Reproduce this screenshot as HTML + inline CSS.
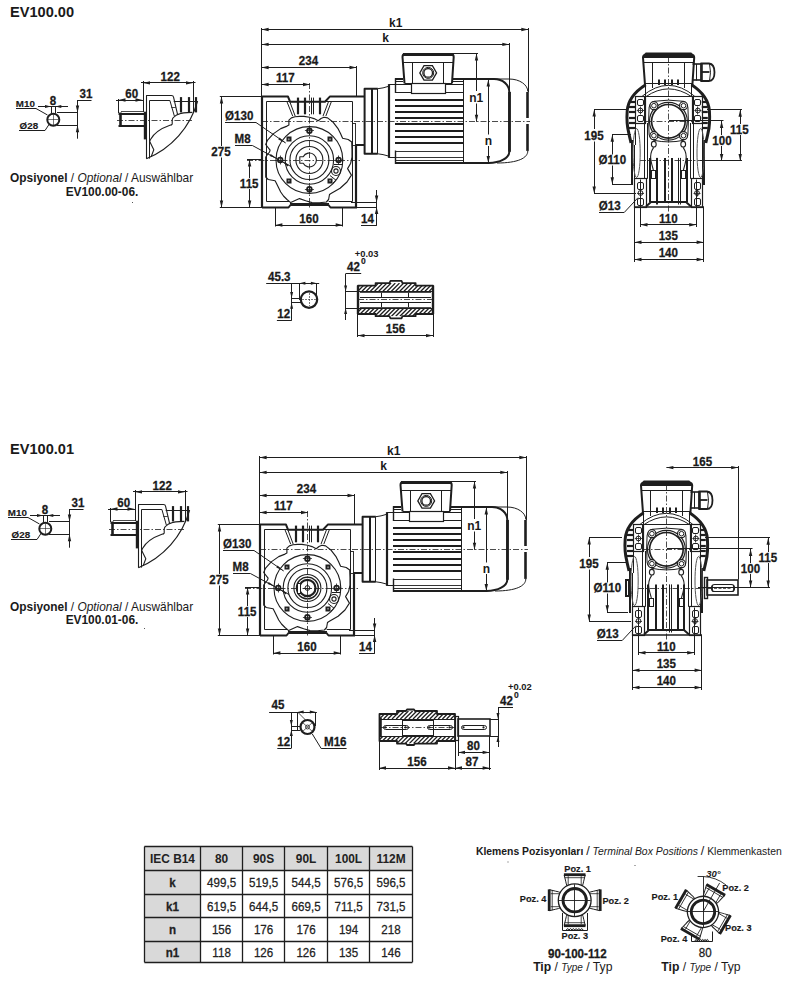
<!DOCTYPE html>
<html><head><meta charset="utf-8"><style>
html,body{margin:0;padding:0;background:#fff;}
body{width:802px;height:988px;overflow:hidden;}
svg{display:block;font-family:"Liberation Sans",sans-serif;}
</style></head><body>
<svg width="802" height="988" viewBox="0 0 802 988">
<text x="10.00" y="16.80" font-size="14.6" font-weight="bold" font-style="normal" text-anchor="start" fill="#1a1a1a" stroke="#1a1a1a" stroke-width="0" >EV100.00</text>
<text transform="translate(79.60,97.50) scale(1,1.12)" font-size="11.6" font-weight="bold" font-style="normal" text-anchor="start" fill="#1a1a1a" stroke="#1a1a1a" stroke-width="0.25" >31</text>
<line x1="77.00" y1="100.50" x2="91.50" y2="100.50" stroke="#1e1e1e" stroke-width="1.0" />
<line x1="77.50" y1="100.40" x2="77.50" y2="138.70" stroke="#1e1e1e" stroke-width="1.0" />
<polygon points="77.50,112.50 75.80,105.50 79.20,105.50" fill="#1e1e1e" stroke="none"/>
<polygon points="77.50,125.20 75.80,132.20 79.20,132.20" fill="#1e1e1e" stroke="none"/>
<line x1="57.00" y1="112.50" x2="77.50" y2="112.50" stroke="#1e1e1e" stroke-width="1.0" />
<line x1="57.00" y1="125.50" x2="77.50" y2="125.50" stroke="#1e1e1e" stroke-width="1.0" />
<circle cx="53.30" cy="119.70" r="6.00" fill="none" stroke="#1e1e1e" stroke-width="2.0" />
<line x1="53.50" y1="114.50" x2="53.50" y2="125.00" stroke="#1e1e1e" stroke-width="0.6" />
<line x1="48.00" y1="119.50" x2="58.50" y2="119.50" stroke="#1e1e1e" stroke-width="0.6" />
<text transform="translate(49.80,104.60) scale(1,1.12)" font-size="11.6" font-weight="bold" font-style="normal" text-anchor="start" fill="#1a1a1a" stroke="#1a1a1a" stroke-width="0.25" >8</text>
<line x1="38.00" y1="106.50" x2="68.00" y2="106.50" stroke="#1e1e1e" stroke-width="1.0" />
<polygon points="51.00,106.60 45.00,105.10 45.00,108.10" fill="#1e1e1e" stroke="none"/>
<polygon points="55.30,106.60 61.30,105.10 61.30,108.10" fill="#1e1e1e" stroke="none"/>
<line x1="51.50" y1="106.60" x2="51.50" y2="113.50" stroke="#1e1e1e" stroke-width="1.0" />
<line x1="55.50" y1="106.60" x2="55.50" y2="113.50" stroke="#1e1e1e" stroke-width="1.0" />
<text x="15.80" y="107.00" font-size="9.8" font-weight="bold" font-style="normal" text-anchor="start" fill="#1a1a1a" stroke="#1a1a1a" stroke-width="0.15" >M10</text>
<polyline points="16.00,108.50 36.00,108.50 47.50,115.00" fill="none" stroke="#1e1e1e" stroke-width="1.0" stroke-linejoin="round" />
<text x="19.60" y="129.00" font-size="9.8" font-weight="bold" font-style="normal" text-anchor="start" fill="#1a1a1a" stroke="#1a1a1a" stroke-width="0.15" >Ø28</text>
<polyline points="19.00,130.50 45.00,130.50 49.00,124.50" fill="none" stroke="#1e1e1e" stroke-width="1.0" stroke-linejoin="round" />
<text transform="translate(160.60,80.60) scale(1,1.12)" font-size="11.6" font-weight="bold" font-style="normal" text-anchor="start" fill="#1a1a1a" stroke="#1a1a1a" stroke-width="0.25" >122</text>
<line x1="141.00" y1="82.50" x2="195.50" y2="82.50" stroke="#1e1e1e" stroke-width="1.0" />
<polygon points="143.00,82.90 150.00,81.20 150.00,84.60" fill="#1e1e1e" stroke="none"/>
<polygon points="193.00,82.90 186.00,81.20 186.00,84.60" fill="#1e1e1e" stroke="none"/>
<line x1="143.50" y1="81.00" x2="143.50" y2="112.00" stroke="#1e1e1e" stroke-width="1.0" />
<line x1="193.50" y1="81.00" x2="193.50" y2="112.00" stroke="#1e1e1e" stroke-width="1.0" />
<text transform="translate(125.30,97.50) scale(1,1.12)" font-size="11.6" font-weight="bold" font-style="normal" text-anchor="start" fill="#1a1a1a" stroke="#1a1a1a" stroke-width="0.25" >60</text>
<line x1="116.00" y1="100.50" x2="143.00" y2="100.50" stroke="#1e1e1e" stroke-width="1.0" />
<polygon points="118.50,100.00 125.50,98.30 125.50,101.70" fill="#1e1e1e" stroke="none"/>
<polygon points="142.50,100.00 135.50,98.30 135.50,101.70" fill="#1e1e1e" stroke="none"/>
<line x1="118.50" y1="99.00" x2="118.50" y2="113.00" stroke="#1e1e1e" stroke-width="1.0" />
<line x1="118.50" y1="114.00" x2="144.00" y2="114.00" stroke="#1e1e1e" stroke-width="2.0" />
<line x1="118.50" y1="126.00" x2="144.00" y2="126.00" stroke="#1e1e1e" stroke-width="2.0" />
<line x1="121.00" y1="111.50" x2="143.00" y2="111.50" stroke="#1e1e1e" stroke-width="0.8" />
<line x1="120.50" y1="112.50" x2="120.50" y2="126.80" stroke="#1e1e1e" stroke-width="2.6" />
<line x1="117.00" y1="120.50" x2="194.00" y2="120.50" stroke="#1e1e1e" stroke-width="0.8" stroke-dasharray="6,2,1.5,2"/>
<line x1="145.00" y1="111.70" x2="145.00" y2="139.40" stroke="#1e1e1e" stroke-width="2.4" />
<path d="M146.5,158.8 V95.5 H171.4 Q173.3,95.5 173.6,97.3 L177.6,114.7" fill="none" stroke="#1e1e1e" stroke-width="1.1" stroke-linejoin="round" />
<path d="M149.5,158.6 V100.5 H169.9 L174.4,116.2" fill="none" stroke="#1e1e1e" stroke-width="1.0" stroke-linejoin="round" />
<line x1="171.30" y1="107.50" x2="175.80" y2="107.50" stroke="#1e1e1e" stroke-width="0.8" />
<line x1="173.70" y1="101.50" x2="197.60" y2="101.50" stroke="#1e1e1e" stroke-width="1.0" />
<line x1="181.00" y1="97.10" x2="181.00" y2="112.40" stroke="#1e1e1e" stroke-width="2.2" />
<line x1="189.00" y1="97.10" x2="189.00" y2="112.40" stroke="#1e1e1e" stroke-width="2.2" />
<line x1="196.00" y1="97.10" x2="196.00" y2="112.40" stroke="#1e1e1e" stroke-width="2.2" />
<path d="M197.6,101.2 A88,88 0 0 1 146.4,158.8" fill="none" stroke="#1e1e1e" stroke-width="1.2" stroke-linejoin="round" />
<path d="M192.4,112.4 C186,112.6 181,113 179.6,113.9 C177,114.6 175.5,115.5 174.4,116.6 C173,117.6 172.2,118.6 172.2,119.9 V124 C172,124.8 171,125.2 169.9,125.2 C162,128 154,133 150.5,139.4 L149.7,141.6 L153.8,149.8 L151.2,156.6" fill="none" stroke="#1e1e1e" stroke-width="1.1" stroke-linejoin="round" />
<text x="10" y="182.4" font-size="11.9" fill="#1a1a1a"><tspan font-weight="bold">Opsiyonel</tspan> / <tspan font-style="italic">Optional</tspan> / Auswählbar</text>
<text x="102.00" y="195.70" font-size="11.9" font-weight="bold" font-style="normal" text-anchor="middle" fill="#1a1a1a" stroke="#1a1a1a" stroke-width="0" >EV100.00-06.</text>
<line x1="261.60" y1="29.50" x2="528.30" y2="29.50" stroke="#1e1e1e" stroke-width="1.0" />
<polygon points="261.60,29.50 268.60,27.80 268.60,31.20" fill="#1e1e1e" stroke="none"/>
<polygon points="528.30,29.50 521.30,27.80 521.30,31.20" fill="#1e1e1e" stroke="none"/>
<text x="389.00" y="26.80" font-size="12" font-weight="bold" font-style="normal" text-anchor="start" fill="#1a1a1a" stroke="#1a1a1a" stroke-width="0" >k1</text>
<line x1="261.60" y1="44.50" x2="509.30" y2="44.50" stroke="#1e1e1e" stroke-width="1.0" />
<polygon points="261.60,44.40 268.60,42.70 268.60,46.10" fill="#1e1e1e" stroke="none"/>
<polygon points="509.30,44.40 502.30,42.70 502.30,46.10" fill="#1e1e1e" stroke="none"/>
<text x="382.20" y="41.80" font-size="12" font-weight="bold" font-style="normal" text-anchor="start" fill="#1a1a1a" stroke="#1a1a1a" stroke-width="0" >k</text>
<line x1="261.60" y1="67.50" x2="356.50" y2="67.50" stroke="#1e1e1e" stroke-width="1.0" />
<polygon points="261.60,67.50 268.60,65.80 268.60,69.20" fill="#1e1e1e" stroke="none"/>
<polygon points="356.50,67.50 349.50,65.80 349.50,69.20" fill="#1e1e1e" stroke="none"/>
<text transform="translate(298.80,65.20) scale(1,1.12)" font-size="11.6" font-weight="bold" font-style="normal" text-anchor="start" fill="#1a1a1a" stroke="#1a1a1a" stroke-width="0.25" >234</text>
<line x1="261.60" y1="84.50" x2="310.00" y2="84.50" stroke="#1e1e1e" stroke-width="1.0" />
<polygon points="261.60,84.50 268.60,82.80 268.60,86.20" fill="#1e1e1e" stroke="none"/>
<polygon points="310.00,84.50 303.00,82.80 303.00,86.20" fill="#1e1e1e" stroke="none"/>
<text transform="translate(276.00,82.00) scale(1,1.12)" font-size="11.6" font-weight="bold" font-style="normal" text-anchor="start" fill="#1a1a1a" stroke="#1a1a1a" stroke-width="0.25" >117</text>
<line x1="261.50" y1="28.00" x2="261.50" y2="97.00" stroke="#1e1e1e" stroke-width="1.0" />
<line x1="356.50" y1="66.00" x2="356.50" y2="97.00" stroke="#1e1e1e" stroke-width="1.0" />
<line x1="528.50" y1="28.00" x2="528.50" y2="92.00" stroke="#1e1e1e" stroke-width="1.0" />
<line x1="509.50" y1="43.00" x2="509.50" y2="92.00" stroke="#1e1e1e" stroke-width="1.0" />
<line x1="262.00" y1="96.70" x2="262.00" y2="207.50" stroke="#1e1e1e" stroke-width="2.2" />
<path d="M262,96.6 H288 L290,101.7 H325 L329.8,96.6 H364.6" fill="none" stroke="#1e1e1e" stroke-width="2.0" stroke-linejoin="round" />
<line x1="356.00" y1="145.00" x2="356.00" y2="207.30" stroke="#1e1e1e" stroke-width="2.2" />
<path d="M262,207.5 H288.5 L290.5,205 H328.5 L330.5,207.5 H357" fill="none" stroke="#1e1e1e" stroke-width="2.0" stroke-linejoin="round" />
<line x1="290.00" y1="203.50" x2="329.00" y2="203.50" stroke="#1e1e1e" stroke-width="1.0" />
<path d="M289,201.5 H266.5 V101.5 H352.5 V201.5 H328.7" fill="none" stroke="#1e1e1e" stroke-width="1.0" stroke-linejoin="round" />
<line x1="286.80" y1="101.30" x2="292.70" y2="116.10" stroke="#1e1e1e" stroke-width="1.0" />
<line x1="289.80" y1="101.70" x2="295.20" y2="116.10" stroke="#1e1e1e" stroke-width="1.0" />
<line x1="331.50" y1="101.30" x2="325.80" y2="116.10" stroke="#1e1e1e" stroke-width="1.0" />
<line x1="328.50" y1="101.70" x2="323.00" y2="116.10" stroke="#1e1e1e" stroke-width="1.0" />
<line x1="298.00" y1="97.60" x2="298.00" y2="114.30" stroke="#1e1e1e" stroke-width="2.2" />
<line x1="305.00" y1="97.60" x2="305.00" y2="114.30" stroke="#1e1e1e" stroke-width="2.2" />
<line x1="320.00" y1="97.60" x2="320.00" y2="114.30" stroke="#1e1e1e" stroke-width="2.2" />
<line x1="311.50" y1="97.60" x2="311.50" y2="114.30" stroke="#1e1e1e" stroke-width="1.0" />
<line x1="313.50" y1="97.60" x2="313.50" y2="114.30" stroke="#1e1e1e" stroke-width="1.0" />
<rect x="352.50" y="123.50" width="3.00" height="22.00" rx="0" fill="none" stroke="#1e1e1e" stroke-width="0.9" />
<path d="M291.4,117.9 295.0,116.8 299.5,116.4 304.0,116.4 309.5,117.2 314.0,118.6 318.2,120.7 321.0,118.5 323.9,117.3 327.6,117.9 333.2,122.3 338.2,128.9 340.5,133.5 342.6,138.2 348.2,139.5 351.7,142.0 352.0,150.0 352.0,157.0 350.7,163.2 347.6,168.6 351.4,175.1 347.0,182.0 340.1,188.2 331.4,193.2 329.5,194.5 328.6,199.5 326.4,202.0 319.5,202.8 312.0,202.6 305.7,200.7 299.5,198.6 290.7,202.6 287.0,199.5 283.5,196.0 280.7,192.0 276.4,183.2 275.1,180.7 268.2,179.5 265.7,177.0 265.7,157.0 269.5,152.0 270.1,150.1 265.7,144.5 267.6,140.1 273.2,133.9 280.7,128.6 287.0,126.1 288.9,125.1 288.9,120.1Z" fill="none" stroke="#1e1e1e" stroke-width="1.15" stroke-linejoin="round" />
<line x1="247.00" y1="160.50" x2="362.00" y2="160.50" stroke="#1e1e1e" stroke-width="0.8" stroke-dasharray="6,2,1.5,2"/>
<line x1="309.50" y1="83.00" x2="309.50" y2="209.00" stroke="#1e1e1e" stroke-width="0.8" stroke-dasharray="6,2,1.5,2"/>
<line x1="262.00" y1="121.50" x2="530.00" y2="121.50" stroke="#1e1e1e" stroke-width="0.8" stroke-dasharray="6,2,1.5,2"/>
<circle cx="309.40" cy="160.00" r="33.40" fill="none" stroke="#1e1e1e" stroke-width="1.1" />
<circle cx="309.40" cy="160.00" r="24.20" fill="none" stroke="#1e1e1e" stroke-width="1.1" />
<circle cx="309.40" cy="160.00" r="19.50" fill="none" stroke="#1e1e1e" stroke-width="1.1" />
<circle cx="309.40" cy="160.00" r="13.50" fill="none" stroke="#1e1e1e" stroke-width="1.1" />
<path d="M303.2,156.8 A7,7 0 1 1 303.2,163.2 H299.79999999999995 V156.8 Z" fill="none" stroke="#1e1e1e" stroke-width="1.1" stroke-linejoin="round" />
<circle cx="338.60" cy="160.00" r="2.30" fill="none" stroke="#1e1e1e" stroke-width="1.8" />
<line x1="334.10" y1="160.50" x2="343.10" y2="160.50" stroke="#1e1e1e" stroke-width="0.8" />
<line x1="338.50" y1="155.50" x2="338.50" y2="164.50" stroke="#1e1e1e" stroke-width="0.8" />
<circle cx="309.40" cy="189.20" r="2.30" fill="none" stroke="#1e1e1e" stroke-width="1.8" />
<line x1="304.90" y1="189.50" x2="313.90" y2="189.50" stroke="#1e1e1e" stroke-width="0.8" />
<line x1="309.50" y1="184.70" x2="309.50" y2="193.70" stroke="#1e1e1e" stroke-width="0.8" />
<circle cx="280.20" cy="160.00" r="2.30" fill="none" stroke="#1e1e1e" stroke-width="1.8" />
<line x1="275.70" y1="160.50" x2="284.70" y2="160.50" stroke="#1e1e1e" stroke-width="0.8" />
<line x1="280.50" y1="155.50" x2="280.50" y2="164.50" stroke="#1e1e1e" stroke-width="0.8" />
<circle cx="309.40" cy="130.80" r="2.30" fill="none" stroke="#1e1e1e" stroke-width="1.8" />
<line x1="304.90" y1="130.50" x2="313.90" y2="130.50" stroke="#1e1e1e" stroke-width="0.8" />
<line x1="309.50" y1="126.30" x2="309.50" y2="135.30" stroke="#1e1e1e" stroke-width="0.8" />
<rect x="327.50" y="178.50" width="5.00" height="5.00" rx="0" fill="#1e1e1e" stroke="#1e1e1e" stroke-width="0" />
<circle cx="330.05" cy="180.65" r="1.00" fill="#888" stroke="#1e1e1e" stroke-width="0" />
<rect x="286.50" y="178.50" width="5.00" height="5.00" rx="0" fill="#1e1e1e" stroke="#1e1e1e" stroke-width="0" />
<circle cx="288.75" cy="180.65" r="1.00" fill="#888" stroke="#1e1e1e" stroke-width="0" />
<rect x="286.50" y="136.50" width="5.00" height="5.00" rx="0" fill="#1e1e1e" stroke="#1e1e1e" stroke-width="0" />
<circle cx="288.75" cy="139.35" r="1.00" fill="#888" stroke="#1e1e1e" stroke-width="0" />
<rect x="327.50" y="136.50" width="5.00" height="5.00" rx="0" fill="#1e1e1e" stroke="#1e1e1e" stroke-width="0" />
<circle cx="330.05" cy="139.35" r="1.00" fill="#888" stroke="#1e1e1e" stroke-width="0" />
<circle cx="336.00" cy="171.00" r="4.50" fill="none" stroke="#1e1e1e" stroke-width="1.1" />
<circle cx="336.00" cy="171.00" r="2.10" fill="none" stroke="#1e1e1e" stroke-width="1.1" />
<polyline points="334.00,164.50 342.50,164.50 342.50,159.00" fill="none" stroke="#1e1e1e" stroke-width="1.0" stroke-linejoin="round" />
<polyline points="330.00,175.50 336.10,180.30 332.60,183.30" fill="none" stroke="#1e1e1e" stroke-width="1.0" stroke-linejoin="round" />
<text transform="translate(225.00,119.70) scale(1,1.12)" font-size="11.6" font-weight="bold" font-style="normal" text-anchor="start" fill="#1a1a1a" stroke="#1a1a1a" stroke-width="0.25" >Ø130</text>
<polyline points="225.00,122.50 256.00,122.50 285.70,143.00" fill="none" stroke="#1e1e1e" stroke-width="1.0" stroke-linejoin="round" />
<polygon points="285.7,143 279.5,137.5 278.3,139.6" fill="#1e1e1e"/>
<text transform="translate(234.60,142.80) scale(1,1.12)" font-size="11.6" font-weight="bold" font-style="normal" text-anchor="start" fill="#1a1a1a" stroke="#1a1a1a" stroke-width="0.25" >M8</text>
<polyline points="235.00,145.50 252.40,145.50 291.00,166.50" fill="none" stroke="#1e1e1e" stroke-width="1.0" stroke-linejoin="round" />
<polygon points="277.2,158.5 270.6,153.9 269.6,155.9" fill="#1e1e1e"/>
<polygon points="281.6,161 288.6,164.6 287.6,166.6" fill="#1e1e1e"/>
<line x1="219.80" y1="96.50" x2="262.00" y2="96.50" stroke="#1e1e1e" stroke-width="1.0" />
<line x1="219.80" y1="207.50" x2="262.00" y2="207.50" stroke="#1e1e1e" stroke-width="1.0" />
<line x1="221.50" y1="96.40" x2="221.50" y2="146.00" stroke="#1e1e1e" stroke-width="1.0" />
<line x1="221.50" y1="157.50" x2="221.50" y2="207.60" stroke="#1e1e1e" stroke-width="1.0" />
<polygon points="221.50,96.40 219.80,103.40 223.20,103.40" fill="#1e1e1e" stroke="none"/>
<polygon points="221.50,207.60 219.80,200.60 223.20,200.60" fill="#1e1e1e" stroke="none"/>
<text transform="translate(221.00,155.90) scale(1,1.12)" font-size="11.6" font-weight="bold" font-style="normal" text-anchor="middle" fill="#1a1a1a" stroke="#1a1a1a" stroke-width="0.25" >275</text>
<line x1="247.00" y1="159.50" x2="262.00" y2="159.50" stroke="#1e1e1e" stroke-width="1.0" />
<line x1="249.50" y1="159.40" x2="249.50" y2="178.00" stroke="#1e1e1e" stroke-width="1.0" />
<line x1="249.50" y1="189.00" x2="249.50" y2="207.60" stroke="#1e1e1e" stroke-width="1.0" />
<polygon points="249.60,159.40 247.90,166.40 251.30,166.40" fill="#1e1e1e" stroke="none"/>
<polygon points="249.60,207.60 247.90,200.60 251.30,200.60" fill="#1e1e1e" stroke="none"/>
<text transform="translate(249.20,187.70) scale(1,1.12)" font-size="11.6" font-weight="bold" font-style="normal" text-anchor="middle" fill="#1a1a1a" stroke="#1a1a1a" stroke-width="0.25" >115</text>
<line x1="275.50" y1="207.00" x2="275.50" y2="226.50" stroke="#1e1e1e" stroke-width="1.0" />
<line x1="342.50" y1="207.00" x2="342.50" y2="226.50" stroke="#1e1e1e" stroke-width="1.0" />
<line x1="275.40" y1="225.50" x2="342.70" y2="225.50" stroke="#1e1e1e" stroke-width="1.0" />
<polygon points="275.40,225.00 282.40,223.30 282.40,226.70" fill="#1e1e1e" stroke="none"/>
<polygon points="342.70,225.00 335.70,223.30 335.70,226.70" fill="#1e1e1e" stroke="none"/>
<text transform="translate(309.00,222.50) scale(1,1.12)" font-size="11.6" font-weight="bold" font-style="normal" text-anchor="middle" fill="#1a1a1a" stroke="#1a1a1a" stroke-width="0.25" >160</text>
<line x1="351.00" y1="202.50" x2="377.00" y2="202.50" stroke="#1e1e1e" stroke-width="1.0" />
<line x1="356.00" y1="207.50" x2="377.00" y2="207.50" stroke="#1e1e1e" stroke-width="1.0" />
<line x1="376.50" y1="190.00" x2="376.50" y2="225.80" stroke="#1e1e1e" stroke-width="1.0" />
<polygon points="376.60,202.60 374.90,195.60 378.30,195.60" fill="#1e1e1e" stroke="none"/>
<polygon points="376.60,207.10 374.90,214.10 378.30,214.10" fill="#1e1e1e" stroke="none"/>
<line x1="361.00" y1="225.50" x2="376.60" y2="225.50" stroke="#1e1e1e" stroke-width="1.0" />
<text transform="translate(361.00,222.80) scale(1,1.12)" font-size="11.6" font-weight="bold" font-style="normal" text-anchor="start" fill="#1a1a1a" stroke="#1a1a1a" stroke-width="0.25" >14</text>
<line x1="355.00" y1="145.00" x2="364.60" y2="145.00" stroke="#1e1e1e" stroke-width="2.0" />
<path d="M377.8,88.7 H364.6 V153.8 H377.8" fill="none" stroke="#1e1e1e" stroke-width="2.0" stroke-linejoin="round" />
<line x1="372.00" y1="88.70" x2="372.00" y2="153.80" stroke="#1e1e1e" stroke-width="2.0" />
<line x1="377.50" y1="88.70" x2="377.50" y2="153.80" stroke="#1e1e1e" stroke-width="1.0" />
<path d="M377.8,88.7 Q383,88.2 388.3,86.4" fill="none" stroke="#1e1e1e" stroke-width="1.0" stroke-linejoin="round" />
<path d="M377.8,153.8 Q383,154.3 388.3,156" fill="none" stroke="#1e1e1e" stroke-width="1.0" stroke-linejoin="round" />
<line x1="389.00" y1="84.10" x2="389.00" y2="157.90" stroke="#1e1e1e" stroke-width="2.2" />
<line x1="389.00" y1="84.50" x2="395.00" y2="84.50" stroke="#1e1e1e" stroke-width="1.0" />
<line x1="389.00" y1="157.50" x2="395.00" y2="157.50" stroke="#1e1e1e" stroke-width="1.0" />
<line x1="395.50" y1="78.20" x2="395.50" y2="93.00" stroke="#1e1e1e" stroke-width="1.4" />
<line x1="395.50" y1="150.50" x2="395.50" y2="164.00" stroke="#1e1e1e" stroke-width="1.4" />
<line x1="395.00" y1="79.00" x2="403.00" y2="79.00" stroke="#1e1e1e" stroke-width="2.0" />
<line x1="452.00" y1="79.00" x2="494.00" y2="79.00" stroke="#1e1e1e" stroke-width="2.0" />
<line x1="395.00" y1="163.00" x2="489.00" y2="163.00" stroke="#1e1e1e" stroke-width="2.2" />
<line x1="395.00" y1="100.00" x2="463.50" y2="100.00" stroke="#1e1e1e" stroke-width="2.1" />
<line x1="395.00" y1="106.00" x2="463.50" y2="106.00" stroke="#1e1e1e" stroke-width="2.1" />
<line x1="395.00" y1="112.00" x2="463.50" y2="112.00" stroke="#1e1e1e" stroke-width="2.1" />
<line x1="395.00" y1="118.00" x2="463.50" y2="118.00" stroke="#1e1e1e" stroke-width="2.1" />
<line x1="395.00" y1="124.00" x2="463.50" y2="124.00" stroke="#1e1e1e" stroke-width="2.1" />
<line x1="395.00" y1="131.00" x2="463.50" y2="131.00" stroke="#1e1e1e" stroke-width="2.1" />
<line x1="395.00" y1="137.00" x2="463.50" y2="137.00" stroke="#1e1e1e" stroke-width="2.1" />
<line x1="395.00" y1="143.00" x2="463.50" y2="143.00" stroke="#1e1e1e" stroke-width="2.1" />
<line x1="463.50" y1="79.40" x2="463.50" y2="163.00" stroke="#1e1e1e" stroke-width="1.0" />
<line x1="395.00" y1="81.50" x2="403.00" y2="81.50" stroke="#1e1e1e" stroke-width="1" />
<line x1="452.00" y1="81.50" x2="463.50" y2="81.50" stroke="#1e1e1e" stroke-width="1" />
<line x1="395.00" y1="84.50" x2="411.00" y2="84.50" stroke="#1e1e1e" stroke-width="1" />
<line x1="445.00" y1="84.50" x2="463.50" y2="84.50" stroke="#1e1e1e" stroke-width="1" />
<line x1="395.00" y1="92.50" x2="411.00" y2="92.50" stroke="#1e1e1e" stroke-width="1" />
<line x1="445.00" y1="92.50" x2="463.50" y2="92.50" stroke="#1e1e1e" stroke-width="1" />
<rect x="411.50" y="83.50" width="34.00" height="10.00" rx="0" fill="none" stroke="#1e1e1e" stroke-width="1.2" />
<path d="M404.5,83.4 L402.5,57 Q402.5,54 405,54 H451 Q453.7,54 453.7,57 L452,83.4" fill="none" stroke="#1e1e1e" stroke-width="2.0" stroke-linejoin="round" />
<line x1="403.00" y1="54.50" x2="453.40" y2="54.50" stroke="#1e1e1e" stroke-width="3.0" />
<line x1="403.00" y1="62.50" x2="453.00" y2="62.50" stroke="#1e1e1e" stroke-width="1.0" />
<line x1="412.50" y1="62.00" x2="412.50" y2="83.40" stroke="#1e1e1e" stroke-width="1.0" />
<line x1="443.50" y1="62.00" x2="443.50" y2="83.40" stroke="#1e1e1e" stroke-width="1.0" />
<line x1="404.50" y1="83.50" x2="452.00" y2="83.50" stroke="#1e1e1e" stroke-width="1.0" />
<polygon points="436.60,72.90 432.40,80.17 424.00,80.17 419.80,72.90 424.00,65.63 432.40,65.63" fill="#fff" stroke="#1e1e1e" stroke-width="1.3"/>
<circle cx="428.20" cy="72.90" r="5.50" fill="none" stroke="#1e1e1e" stroke-width="1.0" />
<circle cx="428.20" cy="72.90" r="4.30" fill="none" stroke="#1e1e1e" stroke-width="1.3" />
<path d="M494,79 C503,79 509.3,85 509.3,92 V151.8 C509.3,158 500,163 488.7,163" fill="none" stroke="#1e1e1e" stroke-width="2.0" stroke-linejoin="round" />
<line x1="509.50" y1="92.00" x2="509.50" y2="151.80" stroke="#1e1e1e" stroke-width="2.8" />
<path d="M494,79 H509 C520,79 527.8,85 527.8,91.5 M527.8,150.9 C527.8,158 518,163 497,163" fill="none" stroke="#1e1e1e" stroke-width="1.0" stroke-linejoin="round" />
<line x1="527.50" y1="92.00" x2="527.50" y2="118.00" stroke="#1e1e1e" stroke-width="2.6" />
<line x1="527.50" y1="124.00" x2="527.50" y2="150.90" stroke="#1e1e1e" stroke-width="2.6" />
<line x1="395.00" y1="151.50" x2="463.50" y2="151.50" stroke="#1e1e1e" stroke-width="0.9" />
<line x1="395.00" y1="157.50" x2="463.50" y2="157.50" stroke="#1e1e1e" stroke-width="0.9" />
<line x1="395.00" y1="160.50" x2="463.50" y2="160.50" stroke="#1e1e1e" stroke-width="0.9" />
<line x1="451.00" y1="53.50" x2="478.00" y2="53.50" stroke="#1e1e1e" stroke-width="1.0" />
<line x1="476.50" y1="53.40" x2="476.50" y2="91.00" stroke="#1e1e1e" stroke-width="1.0" />
<line x1="476.50" y1="103.50" x2="476.50" y2="121.80" stroke="#1e1e1e" stroke-width="1.0" />
<polygon points="476.50,53.40 474.80,60.40 478.20,60.40" fill="#1e1e1e" stroke="none"/>
<polygon points="476.50,121.80 474.80,114.80 478.20,114.80" fill="#1e1e1e" stroke="none"/>
<text x="476.30" y="102.00" font-size="12" font-weight="bold" font-style="normal" text-anchor="middle" fill="#1a1a1a" stroke="#1a1a1a" stroke-width="0" >n1</text>
<line x1="488.50" y1="79.40" x2="488.50" y2="134.50" stroke="#1e1e1e" stroke-width="1.0" />
<line x1="488.50" y1="146.00" x2="488.50" y2="163.00" stroke="#1e1e1e" stroke-width="1.0" />
<polygon points="488.30,79.40 486.60,86.40 490.00,86.40" fill="#1e1e1e" stroke="none"/>
<polygon points="488.30,163.00 486.60,156.00 490.00,156.00" fill="#1e1e1e" stroke="none"/>
<text x="488.30" y="144.50" font-size="12" font-weight="bold" font-style="normal" text-anchor="middle" fill="#1a1a1a" stroke="#1a1a1a" stroke-width="0" >n</text>
<path d="M645,84.9 L643,57.5 Q643,54.7 646,54.7 H691.5 Q694.2,54.7 694.2,57.5 L692.4,84.9" fill="none" stroke="#1e1e1e" stroke-width="2.0" stroke-linejoin="round" />
<path d="M643,57.5 L645.5,53 H691.5 L694.2,57.5 Z" fill="#1e1e1e" stroke="#1e1e1e" stroke-width="1.0" stroke-linejoin="round" />
<line x1="643.50" y1="62.50" x2="694.00" y2="62.50" stroke="#1e1e1e" stroke-width="1.0" />
<line x1="652.50" y1="62.40" x2="652.50" y2="88.00" stroke="#1e1e1e" stroke-width="1.0" />
<line x1="684.50" y1="62.40" x2="684.50" y2="88.00" stroke="#1e1e1e" stroke-width="1.0" />
<line x1="659.00" y1="79.60" x2="659.00" y2="85.00" stroke="#1e1e1e" stroke-width="2.0" />
<line x1="665.00" y1="79.60" x2="665.00" y2="85.00" stroke="#1e1e1e" stroke-width="2.0" />
<line x1="672.00" y1="79.60" x2="672.00" y2="85.00" stroke="#1e1e1e" stroke-width="2.0" />
<line x1="678.00" y1="79.60" x2="678.00" y2="85.00" stroke="#1e1e1e" stroke-width="2.0" />
<line x1="644.00" y1="83.50" x2="693.00" y2="83.50" stroke="#1e1e1e" stroke-width="1.0" />
<line x1="645.50" y1="84.00" x2="645.50" y2="96.00" stroke="#1e1e1e" stroke-width="1.0" />
<line x1="691.50" y1="84.00" x2="691.50" y2="96.00" stroke="#1e1e1e" stroke-width="1.0" />
<line x1="692.50" y1="64.00" x2="701.00" y2="64.00" stroke="#1e1e1e" stroke-width="1.6" />
<line x1="692.50" y1="80.00" x2="701.00" y2="80.00" stroke="#1e1e1e" stroke-width="1.6" />
<line x1="696.50" y1="64.00" x2="696.50" y2="80.50" stroke="#1e1e1e" stroke-width="1.0" />
<path d="M701,63.5 H709 Q714.5,64 714.5,72.3 Q714.5,81 709,81 H701 Z" fill="none" stroke="#1e1e1e" stroke-width="1.8" stroke-linejoin="round" />
<line x1="702.00" y1="63.50" x2="702.00" y2="81.00" stroke="#1e1e1e" stroke-width="1.6" />
<path d="M709.5,64 Q711.5,72 709.5,81" fill="none" stroke="#1e1e1e" stroke-width="1.0" stroke-linejoin="round" />
<line x1="701.50" y1="72.00" x2="709.50" y2="72.00" stroke="#1e1e1e" stroke-width="1.8" />
<path d="M645.7,84.8 C636,91 628,100 627.2,111 C626.5,120 627.5,128 628.8,133 C629.5,137 630.5,140 631,143" fill="none" stroke="#1e1e1e" stroke-width="3.0" stroke-linejoin="round" />
<path d="M691.5,84.8 C701,91 708.6,100 709.4,111 C710,120 709.3,128 708,133 C707.3,137 706.3,140 705.8,143" fill="none" stroke="#1e1e1e" stroke-width="3.0" stroke-linejoin="round" />
<line x1="635.50" y1="123.00" x2="635.50" y2="145.00" stroke="#1e1e1e" stroke-width="1.0" />
<line x1="702.50" y1="123.00" x2="702.50" y2="145.00" stroke="#1e1e1e" stroke-width="1.0" />
<line x1="629.00" y1="102.00" x2="635.00" y2="102.00" stroke="#1e1e1e" stroke-width="2.2" />
<line x1="701.80" y1="102.00" x2="707.80" y2="102.00" stroke="#1e1e1e" stroke-width="2.2" />
<line x1="629.00" y1="107.00" x2="635.00" y2="107.00" stroke="#1e1e1e" stroke-width="2.2" />
<line x1="701.80" y1="107.00" x2="707.80" y2="107.00" stroke="#1e1e1e" stroke-width="2.2" />
<line x1="629.00" y1="112.00" x2="635.00" y2="112.00" stroke="#1e1e1e" stroke-width="2.2" />
<line x1="701.80" y1="112.00" x2="707.80" y2="112.00" stroke="#1e1e1e" stroke-width="2.2" />
<line x1="629.00" y1="118.00" x2="635.00" y2="118.00" stroke="#1e1e1e" stroke-width="2.2" />
<line x1="701.80" y1="118.00" x2="707.80" y2="118.00" stroke="#1e1e1e" stroke-width="2.2" />
<line x1="629.00" y1="123.00" x2="635.00" y2="123.00" stroke="#1e1e1e" stroke-width="2.2" />
<line x1="701.80" y1="123.00" x2="707.80" y2="123.00" stroke="#1e1e1e" stroke-width="2.2" />
<line x1="629.00" y1="128.00" x2="635.00" y2="128.00" stroke="#1e1e1e" stroke-width="2.2" />
<line x1="701.80" y1="128.00" x2="707.80" y2="128.00" stroke="#1e1e1e" stroke-width="2.2" />
<path d="M642.2,96.2 Q668.4,74.5 694.6,96.2" fill="none" stroke="#1e1e1e" stroke-width="1.0" stroke-linejoin="round" />
<path d="M645.7,96.8 Q668.4,81 691.9,96.8" fill="none" stroke="#1e1e1e" stroke-width="1.0" stroke-linejoin="round" />
<line x1="645.70" y1="96.50" x2="691.90" y2="96.50" stroke="#1e1e1e" stroke-width="1.0" />
<rect x="635.50" y="96.50" width="10.00" height="27.00" rx="0" fill="none" stroke="#1e1e1e" stroke-width="1.2" />
<rect x="637.50" y="99.50" width="6.00" height="6.00" rx="1.5" fill="none" stroke="#1e1e1e" stroke-width="1.0" />
<rect x="637.50" y="115.50" width="6.00" height="6.00" rx="1.5" fill="none" stroke="#1e1e1e" stroke-width="1.0" />
<circle cx="640.40" cy="110.50" r="2.40" fill="none" stroke="#1e1e1e" stroke-width="1.0" />
<line x1="636.80" y1="110.50" x2="644.00" y2="110.50" stroke="#1e1e1e" stroke-width="0.8" />
<line x1="640.50" y1="106.50" x2="640.50" y2="114.50" stroke="#1e1e1e" stroke-width="0.8" />
<rect x="692.50" y="96.50" width="10.00" height="27.00" rx="0" fill="none" stroke="#1e1e1e" stroke-width="1.2" />
<rect x="694.50" y="99.50" width="6.00" height="6.00" rx="1.5" fill="none" stroke="#1e1e1e" stroke-width="1.0" />
<rect x="694.50" y="115.50" width="6.00" height="6.00" rx="1.5" fill="none" stroke="#1e1e1e" stroke-width="1.0" />
<circle cx="697.90" cy="110.50" r="2.40" fill="none" stroke="#1e1e1e" stroke-width="1.0" />
<line x1="694.30" y1="110.50" x2="701.50" y2="110.50" stroke="#1e1e1e" stroke-width="0.8" />
<line x1="697.50" y1="106.50" x2="697.50" y2="114.50" stroke="#1e1e1e" stroke-width="0.8" />
<path d="M653.9,101.3 Q668.4,99 683.5,101.3 Q688.5,104 688,110 Q688.8,121.3 688,132 Q688.5,138 683.5,140.3 Q668.4,143.5 653.9,140.3 Q648.5,138 649,132 Q648.2,121.3 649,110 Q648.5,104 653.9,101.3 Z" fill="none" stroke="#1e1e1e" stroke-width="1.0" stroke-linejoin="round" />
<circle cx="668.40" cy="121.30" r="18.90" fill="none" stroke="#1e1e1e" stroke-width="1.2" />
<circle cx="668.40" cy="121.30" r="16.80" fill="none" stroke="#1e1e1e" stroke-width="1.6" />
<circle cx="653.90" cy="105.70" r="4.00" fill="#fff" stroke="#1e1e1e" stroke-width="1.2" />
<circle cx="653.90" cy="105.70" r="2.30" fill="none" stroke="#1e1e1e" stroke-width="1.0" />
<circle cx="683.50" cy="105.70" r="4.00" fill="#fff" stroke="#1e1e1e" stroke-width="1.2" />
<circle cx="683.50" cy="105.70" r="2.30" fill="none" stroke="#1e1e1e" stroke-width="1.0" />
<circle cx="653.90" cy="135.70" r="4.00" fill="#fff" stroke="#1e1e1e" stroke-width="1.2" />
<circle cx="653.90" cy="135.70" r="2.30" fill="none" stroke="#1e1e1e" stroke-width="1.0" />
<circle cx="683.50" cy="135.70" r="4.00" fill="#fff" stroke="#1e1e1e" stroke-width="1.2" />
<circle cx="683.50" cy="135.70" r="2.30" fill="none" stroke="#1e1e1e" stroke-width="1.0" />
<line x1="668.50" y1="56.00" x2="668.50" y2="212.00" stroke="#1e1e1e" stroke-width="0.8" stroke-dasharray="6,2,1.5,2"/>
<line x1="645.00" y1="121.50" x2="692.00" y2="121.50" stroke="#1e1e1e" stroke-width="0.8" stroke-dasharray="6,2,1.5,2"/>
<line x1="640.00" y1="160.50" x2="713.00" y2="160.50" stroke="#1e1e1e" stroke-width="0.8" stroke-dasharray="6,2,1.5,2"/>
<line x1="644.50" y1="96.80" x2="644.50" y2="178.80" stroke="#1e1e1e" stroke-width="1.0" />
<line x1="647.50" y1="123.00" x2="647.50" y2="178.80" stroke="#1e1e1e" stroke-width="1.0" />
<line x1="690.50" y1="123.00" x2="690.50" y2="178.80" stroke="#1e1e1e" stroke-width="1.0" />
<line x1="693.50" y1="96.80" x2="693.50" y2="178.80" stroke="#1e1e1e" stroke-width="1.0" />
<line x1="632.00" y1="140.00" x2="632.00" y2="185.00" stroke="#1e1e1e" stroke-width="2.0" />
<line x1="704.00" y1="140.00" x2="704.00" y2="185.00" stroke="#1e1e1e" stroke-width="2.0" />
<line x1="634.50" y1="145.00" x2="634.50" y2="179.00" stroke="#1e1e1e" stroke-width="1.0" />
<line x1="702.50" y1="145.00" x2="702.50" y2="179.00" stroke="#1e1e1e" stroke-width="1.0" />
<ellipse cx="636.6" cy="153" rx="3.6" ry="24.5" fill="none" stroke="#555" stroke-width="1"/>
<ellipse cx="700.6" cy="153" rx="3.6" ry="24.5" fill="none" stroke="#555" stroke-width="1"/>
<ellipse cx="653.8" cy="144.2" rx="2.4" ry="2.8" fill="none" stroke="#1e1e1e" stroke-width="1.1"/>
<ellipse cx="683.2" cy="144.2" rx="2.4" ry="2.8" fill="none" stroke="#1e1e1e" stroke-width="1.1"/>
<path d="M653.7,147.4 C650.5,152 650.2,156 650.9,160 C651.5,164 652.5,167 653.4,170" fill="none" stroke="#1e1e1e" stroke-width="1.1" stroke-linejoin="round" />
<path d="M683.1,147.4 C686.3,152 686.6,156 685.9,160 C685.3,164 684.3,167 683.4,170" fill="none" stroke="#1e1e1e" stroke-width="1.1" stroke-linejoin="round" />
<line x1="650.00" y1="157.90" x2="650.00" y2="202.00" stroke="#1e1e1e" stroke-width="2.0" />
<line x1="665.00" y1="157.90" x2="665.00" y2="202.00" stroke="#1e1e1e" stroke-width="2.0" />
<line x1="672.00" y1="157.90" x2="672.00" y2="202.00" stroke="#1e1e1e" stroke-width="2.0" />
<line x1="687.00" y1="157.90" x2="687.00" y2="202.00" stroke="#1e1e1e" stroke-width="2.0" />
<line x1="656.50" y1="157.90" x2="656.50" y2="204.50" stroke="#1e1e1e" stroke-width="1.0" />
<line x1="657.50" y1="157.90" x2="657.50" y2="204.50" stroke="#1e1e1e" stroke-width="1.0" />
<line x1="678.50" y1="157.90" x2="678.50" y2="204.50" stroke="#1e1e1e" stroke-width="1.0" />
<line x1="680.50" y1="157.90" x2="680.50" y2="204.50" stroke="#1e1e1e" stroke-width="1.0" />
<rect x="651.50" y="170.50" width="4.00" height="8.00" rx="0" fill="none" stroke="#1e1e1e" stroke-width="1.0" />
<rect x="681.50" y="170.50" width="4.00" height="8.00" rx="0" fill="none" stroke="#1e1e1e" stroke-width="1.0" />
<rect x="634.50" y="178.50" width="12.00" height="29.00" rx="0" fill="none" stroke="#1e1e1e" stroke-width="1.2" />
<rect x="637.50" y="182.50" width="6.00" height="7.00" rx="1.5" fill="none" stroke="#1e1e1e" stroke-width="1.0" />
<rect x="637.50" y="198.50" width="6.00" height="7.00" rx="1.5" fill="none" stroke="#1e1e1e" stroke-width="1.0" />
<circle cx="640.50" cy="193.00" r="2.40" fill="none" stroke="#1e1e1e" stroke-width="1.0" />
<line x1="637.00" y1="193.50" x2="644.00" y2="193.50" stroke="#1e1e1e" stroke-width="0.8" />
<line x1="640.50" y1="189.50" x2="640.50" y2="196.50" stroke="#1e1e1e" stroke-width="0.8" />
<rect x="691.50" y="178.50" width="11.00" height="29.00" rx="0" fill="none" stroke="#1e1e1e" stroke-width="1.2" />
<rect x="694.50" y="182.50" width="6.00" height="7.00" rx="1.5" fill="none" stroke="#1e1e1e" stroke-width="1.0" />
<rect x="694.50" y="198.50" width="6.00" height="7.00" rx="1.5" fill="none" stroke="#1e1e1e" stroke-width="1.0" />
<circle cx="697.00" cy="193.00" r="2.40" fill="none" stroke="#1e1e1e" stroke-width="1.0" />
<line x1="693.50" y1="193.50" x2="700.50" y2="193.50" stroke="#1e1e1e" stroke-width="0.8" />
<line x1="697.50" y1="189.50" x2="697.50" y2="196.50" stroke="#1e1e1e" stroke-width="0.8" />
<polyline points="646.00,206.50 651.00,202.00 686.00,202.00 691.00,206.50" fill="none" stroke="#1e1e1e" stroke-width="2.0" stroke-linejoin="round" />
<line x1="634.00" y1="207.00" x2="704.00" y2="207.00" stroke="#1e1e1e" stroke-width="1.6" />
<line x1="594.00" y1="109.50" x2="627.00" y2="109.50" stroke="#1e1e1e" stroke-width="1.0" />
<line x1="594.00" y1="193.50" x2="636.00" y2="193.50" stroke="#1e1e1e" stroke-width="1.0" />
<line x1="594.50" y1="109.40" x2="594.50" y2="129.00" stroke="#1e1e1e" stroke-width="1.0" />
<line x1="594.50" y1="141.50" x2="594.50" y2="193.40" stroke="#1e1e1e" stroke-width="1.0" />
<polygon points="594.20,109.40 592.50,116.40 595.90,116.40" fill="#1e1e1e" stroke="none"/>
<polygon points="594.20,193.40 592.50,186.40 595.90,186.40" fill="#1e1e1e" stroke="none"/>
<text transform="translate(594.00,140.00) scale(1,1.12)" font-size="11.6" font-weight="bold" font-style="normal" text-anchor="middle" fill="#1a1a1a" stroke="#1a1a1a" stroke-width="0.25" >195</text>
<line x1="612.00" y1="134.50" x2="631.00" y2="134.50" stroke="#1e1e1e" stroke-width="1.0" />
<line x1="612.00" y1="184.50" x2="633.00" y2="184.50" stroke="#1e1e1e" stroke-width="1.0" />
<line x1="612.50" y1="134.80" x2="612.50" y2="154.50" stroke="#1e1e1e" stroke-width="1.0" />
<line x1="612.50" y1="165.50" x2="612.50" y2="184.30" stroke="#1e1e1e" stroke-width="1.0" />
<polygon points="612.30,134.80 610.60,141.80 614.00,141.80" fill="#1e1e1e" stroke="none"/>
<polygon points="612.30,184.30 610.60,177.30 614.00,177.30" fill="#1e1e1e" stroke="none"/>
<text transform="translate(612.40,164.00) scale(1,1.12)" font-size="11.6" font-weight="bold" font-style="normal" text-anchor="middle" fill="#1a1a1a" stroke="#1a1a1a" stroke-width="0.25" >Ø110</text>
<line x1="707.00" y1="109.50" x2="742.00" y2="109.50" stroke="#1e1e1e" stroke-width="1.0" />
<line x1="740.50" y1="109.80" x2="740.50" y2="124.00" stroke="#1e1e1e" stroke-width="1.0" />
<line x1="740.50" y1="135.00" x2="740.50" y2="160.90" stroke="#1e1e1e" stroke-width="1.0" />
<polygon points="740.20,109.80 738.50,116.80 741.90,116.80" fill="#1e1e1e" stroke="none"/>
<polygon points="740.20,160.90 738.50,153.90 741.90,153.90" fill="#1e1e1e" stroke="none"/>
<text transform="translate(739.30,133.80) scale(1,1.12)" font-size="11.6" font-weight="bold" font-style="normal" text-anchor="middle" fill="#1a1a1a" stroke="#1a1a1a" stroke-width="0.25" >115</text>
<line x1="669.00" y1="120.50" x2="723.50" y2="120.50" stroke="#1e1e1e" stroke-width="1.0" />
<line x1="721.50" y1="120.90" x2="721.50" y2="135.00" stroke="#1e1e1e" stroke-width="1.0" />
<line x1="721.50" y1="146.00" x2="721.50" y2="160.90" stroke="#1e1e1e" stroke-width="1.0" />
<polygon points="721.60,120.90 719.90,127.90 723.30,127.90" fill="#1e1e1e" stroke="none"/>
<polygon points="721.60,160.90 719.90,153.90 723.30,153.90" fill="#1e1e1e" stroke="none"/>
<text transform="translate(722.00,144.70) scale(1,1.12)" font-size="11.6" font-weight="bold" font-style="normal" text-anchor="middle" fill="#1a1a1a" stroke="#1a1a1a" stroke-width="0.25" >100</text>
<line x1="700.00" y1="160.50" x2="742.00" y2="160.50" stroke="#1e1e1e" stroke-width="1.0" />
<text transform="translate(598.80,210.00) scale(1,1.12)" font-size="11.6" font-weight="bold" font-style="normal" text-anchor="start" fill="#1a1a1a" stroke="#1a1a1a" stroke-width="0.25" >Ø13</text>
<polyline points="599.00,212.50 624.20,212.50 638.00,197.70" fill="none" stroke="#1e1e1e" stroke-width="1.0" stroke-linejoin="round" />
<line x1="640.50" y1="179.50" x2="640.50" y2="227.00" stroke="#1e1e1e" stroke-width="1.0" />
<line x1="696.50" y1="179.50" x2="696.50" y2="227.00" stroke="#1e1e1e" stroke-width="1.0" />
<line x1="640.50" y1="224.50" x2="696.20" y2="224.50" stroke="#1e1e1e" stroke-width="1.0" />
<polygon points="640.50,224.80 647.50,223.10 647.50,226.50" fill="#1e1e1e" stroke="none"/>
<polygon points="696.20,224.80 689.20,223.10 689.20,226.50" fill="#1e1e1e" stroke="none"/>
<text transform="translate(668.30,222.70) scale(1,1.12)" font-size="11.6" font-weight="bold" font-style="normal" text-anchor="middle" fill="#1a1a1a" stroke="#1a1a1a" stroke-width="0.25" >110</text>
<line x1="634.50" y1="207.00" x2="634.50" y2="262.00" stroke="#1e1e1e" stroke-width="1.0" />
<line x1="703.50" y1="207.00" x2="703.50" y2="262.00" stroke="#1e1e1e" stroke-width="1.0" />
<line x1="634.50" y1="242.50" x2="703.60" y2="242.50" stroke="#1e1e1e" stroke-width="1.0" />
<polygon points="634.50,242.20 641.50,240.50 641.50,243.90" fill="#1e1e1e" stroke="none"/>
<polygon points="703.60,242.20 696.60,240.50 696.60,243.90" fill="#1e1e1e" stroke="none"/>
<text transform="translate(668.30,240.00) scale(1,1.12)" font-size="11.6" font-weight="bold" font-style="normal" text-anchor="middle" fill="#1a1a1a" stroke="#1a1a1a" stroke-width="0.25" >135</text>
<line x1="634.50" y1="259.50" x2="703.60" y2="259.50" stroke="#1e1e1e" stroke-width="1.0" />
<polygon points="634.50,259.50 641.50,257.80 641.50,261.20" fill="#1e1e1e" stroke="none"/>
<polygon points="703.60,259.50 696.60,257.80 696.60,261.20" fill="#1e1e1e" stroke="none"/>
<text transform="translate(668.30,256.60) scale(1,1.12)" font-size="11.6" font-weight="bold" font-style="normal" text-anchor="middle" fill="#1a1a1a" stroke="#1a1a1a" stroke-width="0.25" >140</text>
<text transform="translate(268.00,280.60) scale(1,1.12)" font-size="11.6" font-weight="bold" font-style="normal" text-anchor="start" fill="#1a1a1a" stroke="#1a1a1a" stroke-width="0.25" >45.3</text>
<line x1="266.20" y1="283.50" x2="319.20" y2="283.50" stroke="#1e1e1e" stroke-width="1.0" />
<polygon points="299.40,283.30 305.40,281.80 305.40,284.80" fill="#1e1e1e" stroke="none"/>
<polygon points="316.90,283.30 310.90,281.80 310.90,284.80" fill="#1e1e1e" stroke="none"/>
<line x1="299.50" y1="283.30" x2="299.50" y2="300.00" stroke="#1e1e1e" stroke-width="1.0" />
<line x1="316.50" y1="283.30" x2="316.50" y2="296.00" stroke="#1e1e1e" stroke-width="1.0" />
<line x1="291.50" y1="283.30" x2="291.50" y2="320.60" stroke="#1e1e1e" stroke-width="1.0" />
<polygon points="291.60,298.10 290.10,292.10 293.10,292.10" fill="#1e1e1e" stroke="none"/>
<polygon points="291.60,302.80 290.10,308.80 293.10,308.80" fill="#1e1e1e" stroke="none"/>
<line x1="276.90" y1="320.50" x2="291.60" y2="320.50" stroke="#1e1e1e" stroke-width="1.0" />
<text transform="translate(277.30,317.50) scale(1,1.12)" font-size="11.6" font-weight="bold" font-style="normal" text-anchor="start" fill="#1a1a1a" stroke="#1a1a1a" stroke-width="0.25" >12</text>
<line x1="291.60" y1="298.50" x2="301.00" y2="298.50" stroke="#1e1e1e" stroke-width="1.0" />
<line x1="291.60" y1="302.50" x2="301.00" y2="302.50" stroke="#1e1e1e" stroke-width="1.0" />
<circle cx="309.00" cy="299.60" r="8.20" fill="none" stroke="#1e1e1e" stroke-width="2.2" />
<line x1="309.50" y1="293.00" x2="309.50" y2="306.00" stroke="#1e1e1e" stroke-width="0.6" stroke-dasharray="2,1"/>
<line x1="302.00" y1="299.50" x2="316.00" y2="299.50" stroke="#1e1e1e" stroke-width="0.6" stroke-dasharray="2,1"/>
<text x="354.7" y="257" font-size="9.4" font-weight="bold" fill="#1a1a1a">+0.03</text>
<text x="361.00" y="263.60" font-size="8.5" font-weight="bold" font-style="normal" text-anchor="start" fill="#1a1a1a" stroke="#1a1a1a" stroke-width="0.15" >0</text>
<text transform="translate(347.00,270.90) scale(1,1.12)" font-size="11.6" font-weight="bold" font-style="normal" text-anchor="start" fill="#1a1a1a" stroke="#1a1a1a" stroke-width="0.25" >42</text>
<line x1="345.60" y1="273.50" x2="361.20" y2="273.50" stroke="#1e1e1e" stroke-width="1.0" />
<line x1="345.50" y1="273.75" x2="345.50" y2="320.00" stroke="#1e1e1e" stroke-width="1.0" />
<polygon points="345.60,291.50 344.10,285.50 347.10,285.50" fill="#1e1e1e" stroke="none"/>
<polygon points="345.60,308.10 344.10,314.10 347.10,314.10" fill="#1e1e1e" stroke="none"/>
<line x1="345.60" y1="291.50" x2="358.00" y2="291.50" stroke="#1e1e1e" stroke-width="1.0" />
<line x1="345.60" y1="308.50" x2="358.00" y2="308.50" stroke="#1e1e1e" stroke-width="1.0" />
<clipPath id="hc1"><polygon points="357.50,285.60 375.60,285.60 375.60,283.10 415.60,283.10 415.60,285.60 433.00,285.60 433.00,291.20 357.50,291.20"/></clipPath>
<g clip-path="url(#hc1)">
<line x1="349.40" y1="291.20" x2="357.50" y2="283.10" stroke="#1e1e1e" stroke-width="1.3"/>
<line x1="353.60" y1="291.20" x2="361.70" y2="283.10" stroke="#1e1e1e" stroke-width="1.3"/>
<line x1="357.80" y1="291.20" x2="365.90" y2="283.10" stroke="#1e1e1e" stroke-width="1.3"/>
<line x1="362.00" y1="291.20" x2="370.10" y2="283.10" stroke="#1e1e1e" stroke-width="1.3"/>
<line x1="366.20" y1="291.20" x2="374.30" y2="283.10" stroke="#1e1e1e" stroke-width="1.3"/>
<line x1="370.40" y1="291.20" x2="378.50" y2="283.10" stroke="#1e1e1e" stroke-width="1.3"/>
<line x1="374.60" y1="291.20" x2="382.70" y2="283.10" stroke="#1e1e1e" stroke-width="1.3"/>
<line x1="378.80" y1="291.20" x2="386.90" y2="283.10" stroke="#1e1e1e" stroke-width="1.3"/>
<line x1="383.00" y1="291.20" x2="391.10" y2="283.10" stroke="#1e1e1e" stroke-width="1.3"/>
<line x1="387.20" y1="291.20" x2="395.30" y2="283.10" stroke="#1e1e1e" stroke-width="1.3"/>
<line x1="391.40" y1="291.20" x2="399.50" y2="283.10" stroke="#1e1e1e" stroke-width="1.3"/>
<line x1="395.60" y1="291.20" x2="403.70" y2="283.10" stroke="#1e1e1e" stroke-width="1.3"/>
<line x1="399.80" y1="291.20" x2="407.90" y2="283.10" stroke="#1e1e1e" stroke-width="1.3"/>
<line x1="404.00" y1="291.20" x2="412.10" y2="283.10" stroke="#1e1e1e" stroke-width="1.3"/>
<line x1="408.20" y1="291.20" x2="416.30" y2="283.10" stroke="#1e1e1e" stroke-width="1.3"/>
<line x1="412.40" y1="291.20" x2="420.50" y2="283.10" stroke="#1e1e1e" stroke-width="1.3"/>
<line x1="416.60" y1="291.20" x2="424.70" y2="283.10" stroke="#1e1e1e" stroke-width="1.3"/>
<line x1="420.80" y1="291.20" x2="428.90" y2="283.10" stroke="#1e1e1e" stroke-width="1.3"/>
<line x1="425.00" y1="291.20" x2="433.10" y2="283.10" stroke="#1e1e1e" stroke-width="1.3"/>
<line x1="429.20" y1="291.20" x2="437.30" y2="283.10" stroke="#1e1e1e" stroke-width="1.3"/>
<line x1="433.40" y1="291.20" x2="441.50" y2="283.10" stroke="#1e1e1e" stroke-width="1.3"/>
<line x1="437.60" y1="291.20" x2="445.70" y2="283.10" stroke="#1e1e1e" stroke-width="1.3"/>
</g>
<clipPath id="hc2"><polygon points="357.50,314.00 375.60,314.00 375.60,316.20 415.60,316.20 415.60,314.00 433.00,314.00 433.00,308.20 357.50,308.20"/></clipPath>
<g clip-path="url(#hc2)">
<line x1="349.50" y1="316.20" x2="357.50" y2="308.20" stroke="#1e1e1e" stroke-width="1.3"/>
<line x1="353.70" y1="316.20" x2="361.70" y2="308.20" stroke="#1e1e1e" stroke-width="1.3"/>
<line x1="357.90" y1="316.20" x2="365.90" y2="308.20" stroke="#1e1e1e" stroke-width="1.3"/>
<line x1="362.10" y1="316.20" x2="370.10" y2="308.20" stroke="#1e1e1e" stroke-width="1.3"/>
<line x1="366.30" y1="316.20" x2="374.30" y2="308.20" stroke="#1e1e1e" stroke-width="1.3"/>
<line x1="370.50" y1="316.20" x2="378.50" y2="308.20" stroke="#1e1e1e" stroke-width="1.3"/>
<line x1="374.70" y1="316.20" x2="382.70" y2="308.20" stroke="#1e1e1e" stroke-width="1.3"/>
<line x1="378.90" y1="316.20" x2="386.90" y2="308.20" stroke="#1e1e1e" stroke-width="1.3"/>
<line x1="383.10" y1="316.20" x2="391.10" y2="308.20" stroke="#1e1e1e" stroke-width="1.3"/>
<line x1="387.30" y1="316.20" x2="395.30" y2="308.20" stroke="#1e1e1e" stroke-width="1.3"/>
<line x1="391.50" y1="316.20" x2="399.50" y2="308.20" stroke="#1e1e1e" stroke-width="1.3"/>
<line x1="395.70" y1="316.20" x2="403.70" y2="308.20" stroke="#1e1e1e" stroke-width="1.3"/>
<line x1="399.90" y1="316.20" x2="407.90" y2="308.20" stroke="#1e1e1e" stroke-width="1.3"/>
<line x1="404.10" y1="316.20" x2="412.10" y2="308.20" stroke="#1e1e1e" stroke-width="1.3"/>
<line x1="408.30" y1="316.20" x2="416.30" y2="308.20" stroke="#1e1e1e" stroke-width="1.3"/>
<line x1="412.50" y1="316.20" x2="420.50" y2="308.20" stroke="#1e1e1e" stroke-width="1.3"/>
<line x1="416.70" y1="316.20" x2="424.70" y2="308.20" stroke="#1e1e1e" stroke-width="1.3"/>
<line x1="420.90" y1="316.20" x2="428.90" y2="308.20" stroke="#1e1e1e" stroke-width="1.3"/>
<line x1="425.10" y1="316.20" x2="433.10" y2="308.20" stroke="#1e1e1e" stroke-width="1.3"/>
<line x1="429.30" y1="316.20" x2="437.30" y2="308.20" stroke="#1e1e1e" stroke-width="1.3"/>
<line x1="433.50" y1="316.20" x2="441.50" y2="308.20" stroke="#1e1e1e" stroke-width="1.3"/>
<line x1="437.70" y1="316.20" x2="445.70" y2="308.20" stroke="#1e1e1e" stroke-width="1.3"/>
</g>
<path d="M358,314 V285.6 H375.6 V283.1 H389.4 L390.5,280.8 H401.5 L402.5,283.1 H415.6 V285.6 H433 V314 H415.6 V316.2 H402.5 L401.5,318.4 H390.5 L389.4,316.2 H375.6 V314 Z" fill="none" stroke="#1e1e1e" stroke-width="1.8" stroke-linejoin="round" />
<line x1="358.00" y1="285.60" x2="358.00" y2="314.00" stroke="#1e1e1e" stroke-width="2.4" />
<line x1="433.00" y1="285.60" x2="433.00" y2="314.00" stroke="#1e1e1e" stroke-width="2.4" />
<line x1="358.00" y1="291.50" x2="433.00" y2="291.50" stroke="#1e1e1e" stroke-width="1.2" />
<line x1="358.00" y1="308.50" x2="433.00" y2="308.50" stroke="#1e1e1e" stroke-width="1.2" />
<line x1="360.00" y1="292.50" x2="431.00" y2="292.50" stroke="#1e1e1e" stroke-width="0.8" />
<line x1="360.00" y1="297.50" x2="431.00" y2="297.50" stroke="#1e1e1e" stroke-width="1.2" />
<line x1="360.00" y1="302.50" x2="431.00" y2="302.50" stroke="#1e1e1e" stroke-width="1.2" />
<line x1="360.00" y1="307.50" x2="431.00" y2="307.50" stroke="#1e1e1e" stroke-width="0.8" />
<line x1="358.00" y1="299.50" x2="433.00" y2="299.50" stroke="#1e1e1e" stroke-width="0.8" stroke-dasharray="6,2,1.5,2"/>
<line x1="381.50" y1="292.80" x2="381.50" y2="297.20" stroke="#1e1e1e" stroke-width="1.0" />
<line x1="408.50" y1="292.80" x2="408.50" y2="297.20" stroke="#1e1e1e" stroke-width="1.0" />
<line x1="381.50" y1="302.50" x2="381.50" y2="307.00" stroke="#1e1e1e" stroke-width="1.0" />
<line x1="408.50" y1="302.50" x2="408.50" y2="307.00" stroke="#1e1e1e" stroke-width="1.0" />
<line x1="357.50" y1="314.00" x2="357.50" y2="337.00" stroke="#1e1e1e" stroke-width="1.0" />
<line x1="433.50" y1="314.00" x2="433.50" y2="337.00" stroke="#1e1e1e" stroke-width="1.0" />
<line x1="357.50" y1="335.50" x2="433.00" y2="335.50" stroke="#1e1e1e" stroke-width="1.0" />
<polygon points="357.50,335.60 364.50,333.90 364.50,337.30" fill="#1e1e1e" stroke="none"/>
<polygon points="433.00,335.60 426.00,333.90 426.00,337.30" fill="#1e1e1e" stroke="none"/>
<text transform="translate(395.50,332.75) scale(1,1.12)" font-size="11.6" font-weight="bold" font-style="normal" text-anchor="middle" fill="#1a1a1a" stroke="#1a1a1a" stroke-width="0.25" >156</text>
<text x="10.00" y="453.70" font-size="14.6" font-weight="bold" font-style="normal" text-anchor="start" fill="#1a1a1a" stroke="#1a1a1a" stroke-width="0" >EV100.01</text>
<g transform="translate(-8,409)">
<text transform="translate(79.60,97.50) scale(1,1.12)" font-size="11.6" font-weight="bold" font-style="normal" text-anchor="start" fill="#1a1a1a" stroke="#1a1a1a" stroke-width="0.25" >31</text>
<line x1="77.00" y1="100.50" x2="91.50" y2="100.50" stroke="#1e1e1e" stroke-width="1.0" />
<line x1="77.50" y1="100.40" x2="77.50" y2="138.70" stroke="#1e1e1e" stroke-width="1.0" />
<polygon points="77.50,112.50 75.80,105.50 79.20,105.50" fill="#1e1e1e" stroke="none"/>
<polygon points="77.50,125.20 75.80,132.20 79.20,132.20" fill="#1e1e1e" stroke="none"/>
<line x1="57.00" y1="112.50" x2="77.50" y2="112.50" stroke="#1e1e1e" stroke-width="1.0" />
<line x1="57.00" y1="125.50" x2="77.50" y2="125.50" stroke="#1e1e1e" stroke-width="1.0" />
<circle cx="53.30" cy="119.70" r="6.00" fill="none" stroke="#1e1e1e" stroke-width="2.0" />
<line x1="53.50" y1="114.50" x2="53.50" y2="125.00" stroke="#1e1e1e" stroke-width="0.6" />
<line x1="48.00" y1="119.50" x2="58.50" y2="119.50" stroke="#1e1e1e" stroke-width="0.6" />
<text transform="translate(49.80,104.60) scale(1,1.12)" font-size="11.6" font-weight="bold" font-style="normal" text-anchor="start" fill="#1a1a1a" stroke="#1a1a1a" stroke-width="0.25" >8</text>
<line x1="38.00" y1="106.50" x2="68.00" y2="106.50" stroke="#1e1e1e" stroke-width="1.0" />
<polygon points="51.00,106.60 45.00,105.10 45.00,108.10" fill="#1e1e1e" stroke="none"/>
<polygon points="55.30,106.60 61.30,105.10 61.30,108.10" fill="#1e1e1e" stroke="none"/>
<line x1="51.50" y1="106.60" x2="51.50" y2="113.50" stroke="#1e1e1e" stroke-width="1.0" />
<line x1="55.50" y1="106.60" x2="55.50" y2="113.50" stroke="#1e1e1e" stroke-width="1.0" />
<text x="15.80" y="107.00" font-size="9.8" font-weight="bold" font-style="normal" text-anchor="start" fill="#1a1a1a" stroke="#1a1a1a" stroke-width="0.15" >M10</text>
<polyline points="16.00,108.50 36.00,108.50 47.50,115.00" fill="none" stroke="#1e1e1e" stroke-width="1.0" stroke-linejoin="round" />
<text x="19.60" y="129.00" font-size="9.8" font-weight="bold" font-style="normal" text-anchor="start" fill="#1a1a1a" stroke="#1a1a1a" stroke-width="0.15" >Ø28</text>
<polyline points="19.00,130.50 45.00,130.50 49.00,124.50" fill="none" stroke="#1e1e1e" stroke-width="1.0" stroke-linejoin="round" />
<text transform="translate(160.60,80.60) scale(1,1.12)" font-size="11.6" font-weight="bold" font-style="normal" text-anchor="start" fill="#1a1a1a" stroke="#1a1a1a" stroke-width="0.25" >122</text>
<line x1="141.00" y1="82.50" x2="195.50" y2="82.50" stroke="#1e1e1e" stroke-width="1.0" />
<polygon points="143.00,82.90 150.00,81.20 150.00,84.60" fill="#1e1e1e" stroke="none"/>
<polygon points="193.00,82.90 186.00,81.20 186.00,84.60" fill="#1e1e1e" stroke="none"/>
<line x1="143.50" y1="81.00" x2="143.50" y2="112.00" stroke="#1e1e1e" stroke-width="1.0" />
<line x1="193.50" y1="81.00" x2="193.50" y2="112.00" stroke="#1e1e1e" stroke-width="1.0" />
<text transform="translate(125.30,97.50) scale(1,1.12)" font-size="11.6" font-weight="bold" font-style="normal" text-anchor="start" fill="#1a1a1a" stroke="#1a1a1a" stroke-width="0.25" >60</text>
<line x1="116.00" y1="100.50" x2="143.00" y2="100.50" stroke="#1e1e1e" stroke-width="1.0" />
<polygon points="118.50,100.00 125.50,98.30 125.50,101.70" fill="#1e1e1e" stroke="none"/>
<polygon points="142.50,100.00 135.50,98.30 135.50,101.70" fill="#1e1e1e" stroke="none"/>
<line x1="118.50" y1="99.00" x2="118.50" y2="113.00" stroke="#1e1e1e" stroke-width="1.0" />
<line x1="118.50" y1="114.00" x2="144.00" y2="114.00" stroke="#1e1e1e" stroke-width="2.0" />
<line x1="118.50" y1="126.00" x2="144.00" y2="126.00" stroke="#1e1e1e" stroke-width="2.0" />
<line x1="121.00" y1="111.50" x2="143.00" y2="111.50" stroke="#1e1e1e" stroke-width="0.8" />
<line x1="120.50" y1="112.50" x2="120.50" y2="126.80" stroke="#1e1e1e" stroke-width="2.6" />
<line x1="117.00" y1="120.50" x2="194.00" y2="120.50" stroke="#1e1e1e" stroke-width="0.8" stroke-dasharray="6,2,1.5,2"/>
<line x1="145.00" y1="111.70" x2="145.00" y2="139.40" stroke="#1e1e1e" stroke-width="2.4" />
<path d="M146.5,158.8 V95.5 H171.4 Q173.3,95.5 173.6,97.3 L177.6,114.7" fill="none" stroke="#1e1e1e" stroke-width="1.1" stroke-linejoin="round" />
<path d="M149.5,158.6 V100.5 H169.9 L174.4,116.2" fill="none" stroke="#1e1e1e" stroke-width="1.0" stroke-linejoin="round" />
<line x1="171.30" y1="107.50" x2="175.80" y2="107.50" stroke="#1e1e1e" stroke-width="0.8" />
<line x1="173.70" y1="101.50" x2="197.60" y2="101.50" stroke="#1e1e1e" stroke-width="1.0" />
<line x1="181.00" y1="97.10" x2="181.00" y2="112.40" stroke="#1e1e1e" stroke-width="2.2" />
<line x1="189.00" y1="97.10" x2="189.00" y2="112.40" stroke="#1e1e1e" stroke-width="2.2" />
<line x1="196.00" y1="97.10" x2="196.00" y2="112.40" stroke="#1e1e1e" stroke-width="2.2" />
<path d="M197.6,101.2 A88,88 0 0 1 146.4,158.8" fill="none" stroke="#1e1e1e" stroke-width="1.2" stroke-linejoin="round" />
<path d="M192.4,112.4 C186,112.6 181,113 179.6,113.9 C177,114.6 175.5,115.5 174.4,116.6 C173,117.6 172.2,118.6 172.2,119.9 V124 C172,124.8 171,125.2 169.9,125.2 C162,128 154,133 150.5,139.4 L149.7,141.6 L153.8,149.8 L151.2,156.6" fill="none" stroke="#1e1e1e" stroke-width="1.1" stroke-linejoin="round" />
</g>
<text x="10" y="610.8" font-size="11.9" fill="#1a1a1a"><tspan font-weight="bold">Opsiyonel</tspan> / <tspan font-style="italic">Optional</tspan> / Auswählbar</text>
<text x="102.00" y="624.10" font-size="11.9" font-weight="bold" font-style="normal" text-anchor="middle" fill="#1a1a1a" stroke="#1a1a1a" stroke-width="0" >EV100.01-06.</text>
<g transform="translate(-2,428)">
<line x1="261.60" y1="29.50" x2="528.30" y2="29.50" stroke="#1e1e1e" stroke-width="1.0" />
<polygon points="261.60,29.50 268.60,27.80 268.60,31.20" fill="#1e1e1e" stroke="none"/>
<polygon points="528.30,29.50 521.30,27.80 521.30,31.20" fill="#1e1e1e" stroke="none"/>
<text x="389.00" y="26.80" font-size="12" font-weight="bold" font-style="normal" text-anchor="start" fill="#1a1a1a" stroke="#1a1a1a" stroke-width="0" >k1</text>
<line x1="261.60" y1="44.50" x2="509.30" y2="44.50" stroke="#1e1e1e" stroke-width="1.0" />
<polygon points="261.60,44.40 268.60,42.70 268.60,46.10" fill="#1e1e1e" stroke="none"/>
<polygon points="509.30,44.40 502.30,42.70 502.30,46.10" fill="#1e1e1e" stroke="none"/>
<text x="382.20" y="41.80" font-size="12" font-weight="bold" font-style="normal" text-anchor="start" fill="#1a1a1a" stroke="#1a1a1a" stroke-width="0" >k</text>
<line x1="261.60" y1="67.50" x2="356.50" y2="67.50" stroke="#1e1e1e" stroke-width="1.0" />
<polygon points="261.60,67.50 268.60,65.80 268.60,69.20" fill="#1e1e1e" stroke="none"/>
<polygon points="356.50,67.50 349.50,65.80 349.50,69.20" fill="#1e1e1e" stroke="none"/>
<text transform="translate(298.80,65.20) scale(1,1.12)" font-size="11.6" font-weight="bold" font-style="normal" text-anchor="start" fill="#1a1a1a" stroke="#1a1a1a" stroke-width="0.25" >234</text>
<line x1="261.60" y1="84.50" x2="310.00" y2="84.50" stroke="#1e1e1e" stroke-width="1.0" />
<polygon points="261.60,84.50 268.60,82.80 268.60,86.20" fill="#1e1e1e" stroke="none"/>
<polygon points="310.00,84.50 303.00,82.80 303.00,86.20" fill="#1e1e1e" stroke="none"/>
<text transform="translate(276.00,82.00) scale(1,1.12)" font-size="11.6" font-weight="bold" font-style="normal" text-anchor="start" fill="#1a1a1a" stroke="#1a1a1a" stroke-width="0.25" >117</text>
<line x1="261.50" y1="28.00" x2="261.50" y2="97.00" stroke="#1e1e1e" stroke-width="1.0" />
<line x1="356.50" y1="66.00" x2="356.50" y2="97.00" stroke="#1e1e1e" stroke-width="1.0" />
<line x1="528.50" y1="28.00" x2="528.50" y2="92.00" stroke="#1e1e1e" stroke-width="1.0" />
<line x1="509.50" y1="43.00" x2="509.50" y2="92.00" stroke="#1e1e1e" stroke-width="1.0" />
<line x1="262.00" y1="96.70" x2="262.00" y2="207.50" stroke="#1e1e1e" stroke-width="2.2" />
<path d="M262,96.6 H288 L290,101.7 H325 L329.8,96.6 H364.6" fill="none" stroke="#1e1e1e" stroke-width="2.0" stroke-linejoin="round" />
<line x1="356.00" y1="145.00" x2="356.00" y2="207.30" stroke="#1e1e1e" stroke-width="2.2" />
<path d="M262,207.5 H288.5 L290.5,205 H328.5 L330.5,207.5 H357" fill="none" stroke="#1e1e1e" stroke-width="2.0" stroke-linejoin="round" />
<line x1="290.00" y1="203.50" x2="329.00" y2="203.50" stroke="#1e1e1e" stroke-width="1.0" />
<path d="M289,201.5 H266.5 V101.5 H352.5 V201.5 H328.7" fill="none" stroke="#1e1e1e" stroke-width="1.0" stroke-linejoin="round" />
<line x1="286.80" y1="101.30" x2="292.70" y2="116.10" stroke="#1e1e1e" stroke-width="1.0" />
<line x1="289.80" y1="101.70" x2="295.20" y2="116.10" stroke="#1e1e1e" stroke-width="1.0" />
<line x1="331.50" y1="101.30" x2="325.80" y2="116.10" stroke="#1e1e1e" stroke-width="1.0" />
<line x1="328.50" y1="101.70" x2="323.00" y2="116.10" stroke="#1e1e1e" stroke-width="1.0" />
<line x1="298.00" y1="97.60" x2="298.00" y2="114.30" stroke="#1e1e1e" stroke-width="2.2" />
<line x1="305.00" y1="97.60" x2="305.00" y2="114.30" stroke="#1e1e1e" stroke-width="2.2" />
<line x1="320.00" y1="97.60" x2="320.00" y2="114.30" stroke="#1e1e1e" stroke-width="2.2" />
<line x1="311.50" y1="97.60" x2="311.50" y2="114.30" stroke="#1e1e1e" stroke-width="1.0" />
<line x1="313.50" y1="97.60" x2="313.50" y2="114.30" stroke="#1e1e1e" stroke-width="1.0" />
<rect x="352.50" y="123.50" width="3.00" height="22.00" rx="0" fill="none" stroke="#1e1e1e" stroke-width="0.9" />
<path d="M291.4,117.9 295.0,116.8 299.5,116.4 304.0,116.4 309.5,117.2 314.0,118.6 318.2,120.7 321.0,118.5 323.9,117.3 327.6,117.9 333.2,122.3 338.2,128.9 340.5,133.5 342.6,138.2 348.2,139.5 351.7,142.0 352.0,150.0 352.0,157.0 350.7,163.2 347.6,168.6 351.4,175.1 347.0,182.0 340.1,188.2 331.4,193.2 329.5,194.5 328.6,199.5 326.4,202.0 319.5,202.8 312.0,202.6 305.7,200.7 299.5,198.6 290.7,202.6 287.0,199.5 283.5,196.0 280.7,192.0 276.4,183.2 275.1,180.7 268.2,179.5 265.7,177.0 265.7,157.0 269.5,152.0 270.1,150.1 265.7,144.5 267.6,140.1 273.2,133.9 280.7,128.6 287.0,126.1 288.9,125.1 288.9,120.1Z" fill="none" stroke="#1e1e1e" stroke-width="1.15" stroke-linejoin="round" />
<line x1="247.00" y1="160.50" x2="362.00" y2="160.50" stroke="#1e1e1e" stroke-width="0.8" stroke-dasharray="6,2,1.5,2"/>
<line x1="309.50" y1="83.00" x2="309.50" y2="209.00" stroke="#1e1e1e" stroke-width="0.8" stroke-dasharray="6,2,1.5,2"/>
<line x1="262.00" y1="121.50" x2="530.00" y2="121.50" stroke="#1e1e1e" stroke-width="0.8" stroke-dasharray="6,2,1.5,2"/>
<circle cx="309.40" cy="160.00" r="33.40" fill="none" stroke="#1e1e1e" stroke-width="1.1" />
<circle cx="309.40" cy="160.00" r="24.20" fill="none" stroke="#1e1e1e" stroke-width="1.1" />
<circle cx="309.40" cy="160.00" r="19.50" fill="none" stroke="#1e1e1e" stroke-width="1.1" />
<circle cx="309.40" cy="160.00" r="13.50" fill="none" stroke="#1e1e1e" stroke-width="1.1" />
<circle cx="309.40" cy="160.00" r="10.90" fill="none" stroke="#1e1e1e" stroke-width="1.4" />
<circle cx="309.40" cy="160.00" r="8.10" fill="none" stroke="#1e1e1e" stroke-width="2.2" />
<circle cx="309.40" cy="160.00" r="2.40" fill="none" stroke="#1e1e1e" stroke-width="1.0" />
<line x1="305.40" y1="160.50" x2="313.40" y2="160.50" stroke="#1e1e1e" stroke-width="0.8" />
<line x1="309.50" y1="156.00" x2="309.50" y2="164.00" stroke="#1e1e1e" stroke-width="0.8" />
<rect x="299.50" y="155.50" width="3.00" height="10.00" rx="0" fill="#fff" stroke="#1e1e1e" stroke-width="1.0" />
<circle cx="338.60" cy="160.00" r="2.30" fill="none" stroke="#1e1e1e" stroke-width="1.8" />
<line x1="334.10" y1="160.50" x2="343.10" y2="160.50" stroke="#1e1e1e" stroke-width="0.8" />
<line x1="338.50" y1="155.50" x2="338.50" y2="164.50" stroke="#1e1e1e" stroke-width="0.8" />
<circle cx="309.40" cy="189.20" r="2.30" fill="none" stroke="#1e1e1e" stroke-width="1.8" />
<line x1="304.90" y1="189.50" x2="313.90" y2="189.50" stroke="#1e1e1e" stroke-width="0.8" />
<line x1="309.50" y1="184.70" x2="309.50" y2="193.70" stroke="#1e1e1e" stroke-width="0.8" />
<circle cx="280.20" cy="160.00" r="2.30" fill="none" stroke="#1e1e1e" stroke-width="1.8" />
<line x1="275.70" y1="160.50" x2="284.70" y2="160.50" stroke="#1e1e1e" stroke-width="0.8" />
<line x1="280.50" y1="155.50" x2="280.50" y2="164.50" stroke="#1e1e1e" stroke-width="0.8" />
<circle cx="309.40" cy="130.80" r="2.30" fill="none" stroke="#1e1e1e" stroke-width="1.8" />
<line x1="304.90" y1="130.50" x2="313.90" y2="130.50" stroke="#1e1e1e" stroke-width="0.8" />
<line x1="309.50" y1="126.30" x2="309.50" y2="135.30" stroke="#1e1e1e" stroke-width="0.8" />
<rect x="327.50" y="178.50" width="5.00" height="5.00" rx="0" fill="#1e1e1e" stroke="#1e1e1e" stroke-width="0" />
<circle cx="330.05" cy="180.65" r="1.00" fill="#888" stroke="#1e1e1e" stroke-width="0" />
<rect x="286.50" y="178.50" width="5.00" height="5.00" rx="0" fill="#1e1e1e" stroke="#1e1e1e" stroke-width="0" />
<circle cx="288.75" cy="180.65" r="1.00" fill="#888" stroke="#1e1e1e" stroke-width="0" />
<rect x="286.50" y="136.50" width="5.00" height="5.00" rx="0" fill="#1e1e1e" stroke="#1e1e1e" stroke-width="0" />
<circle cx="288.75" cy="139.35" r="1.00" fill="#888" stroke="#1e1e1e" stroke-width="0" />
<rect x="327.50" y="136.50" width="5.00" height="5.00" rx="0" fill="#1e1e1e" stroke="#1e1e1e" stroke-width="0" />
<circle cx="330.05" cy="139.35" r="1.00" fill="#888" stroke="#1e1e1e" stroke-width="0" />
<circle cx="336.00" cy="171.00" r="4.50" fill="none" stroke="#1e1e1e" stroke-width="1.1" />
<circle cx="336.00" cy="171.00" r="2.10" fill="none" stroke="#1e1e1e" stroke-width="1.1" />
<polyline points="334.00,164.50 342.50,164.50 342.50,159.00" fill="none" stroke="#1e1e1e" stroke-width="1.0" stroke-linejoin="round" />
<polyline points="330.00,175.50 336.10,180.30 332.60,183.30" fill="none" stroke="#1e1e1e" stroke-width="1.0" stroke-linejoin="round" />
<text transform="translate(225.00,119.70) scale(1,1.12)" font-size="11.6" font-weight="bold" font-style="normal" text-anchor="start" fill="#1a1a1a" stroke="#1a1a1a" stroke-width="0.25" >Ø130</text>
<polyline points="225.00,122.50 256.00,122.50 285.70,143.00" fill="none" stroke="#1e1e1e" stroke-width="1.0" stroke-linejoin="round" />
<polygon points="285.7,143 279.5,137.5 278.3,139.6" fill="#1e1e1e"/>
<text transform="translate(234.60,142.80) scale(1,1.12)" font-size="11.6" font-weight="bold" font-style="normal" text-anchor="start" fill="#1a1a1a" stroke="#1a1a1a" stroke-width="0.25" >M8</text>
<polyline points="235.00,145.50 252.40,145.50 291.00,166.50" fill="none" stroke="#1e1e1e" stroke-width="1.0" stroke-linejoin="round" />
<polygon points="277.2,158.5 270.6,153.9 269.6,155.9" fill="#1e1e1e"/>
<polygon points="281.6,161 288.6,164.6 287.6,166.6" fill="#1e1e1e"/>
<line x1="219.80" y1="96.50" x2="262.00" y2="96.50" stroke="#1e1e1e" stroke-width="1.0" />
<line x1="219.80" y1="207.50" x2="262.00" y2="207.50" stroke="#1e1e1e" stroke-width="1.0" />
<line x1="221.50" y1="96.40" x2="221.50" y2="146.00" stroke="#1e1e1e" stroke-width="1.0" />
<line x1="221.50" y1="157.50" x2="221.50" y2="207.60" stroke="#1e1e1e" stroke-width="1.0" />
<polygon points="221.50,96.40 219.80,103.40 223.20,103.40" fill="#1e1e1e" stroke="none"/>
<polygon points="221.50,207.60 219.80,200.60 223.20,200.60" fill="#1e1e1e" stroke="none"/>
<text transform="translate(221.00,155.90) scale(1,1.12)" font-size="11.6" font-weight="bold" font-style="normal" text-anchor="middle" fill="#1a1a1a" stroke="#1a1a1a" stroke-width="0.25" >275</text>
<line x1="247.00" y1="159.50" x2="262.00" y2="159.50" stroke="#1e1e1e" stroke-width="1.0" />
<line x1="249.50" y1="159.40" x2="249.50" y2="178.00" stroke="#1e1e1e" stroke-width="1.0" />
<line x1="249.50" y1="189.00" x2="249.50" y2="207.60" stroke="#1e1e1e" stroke-width="1.0" />
<polygon points="249.60,159.40 247.90,166.40 251.30,166.40" fill="#1e1e1e" stroke="none"/>
<polygon points="249.60,207.60 247.90,200.60 251.30,200.60" fill="#1e1e1e" stroke="none"/>
<text transform="translate(249.20,187.70) scale(1,1.12)" font-size="11.6" font-weight="bold" font-style="normal" text-anchor="middle" fill="#1a1a1a" stroke="#1a1a1a" stroke-width="0.25" >115</text>
<line x1="275.50" y1="207.00" x2="275.50" y2="226.50" stroke="#1e1e1e" stroke-width="1.0" />
<line x1="342.50" y1="207.00" x2="342.50" y2="226.50" stroke="#1e1e1e" stroke-width="1.0" />
<line x1="275.40" y1="225.50" x2="342.70" y2="225.50" stroke="#1e1e1e" stroke-width="1.0" />
<polygon points="275.40,225.00 282.40,223.30 282.40,226.70" fill="#1e1e1e" stroke="none"/>
<polygon points="342.70,225.00 335.70,223.30 335.70,226.70" fill="#1e1e1e" stroke="none"/>
<text transform="translate(309.00,222.50) scale(1,1.12)" font-size="11.6" font-weight="bold" font-style="normal" text-anchor="middle" fill="#1a1a1a" stroke="#1a1a1a" stroke-width="0.25" >160</text>
<line x1="351.00" y1="202.50" x2="377.00" y2="202.50" stroke="#1e1e1e" stroke-width="1.0" />
<line x1="356.00" y1="207.50" x2="377.00" y2="207.50" stroke="#1e1e1e" stroke-width="1.0" />
<line x1="376.50" y1="190.00" x2="376.50" y2="225.80" stroke="#1e1e1e" stroke-width="1.0" />
<polygon points="376.60,202.60 374.90,195.60 378.30,195.60" fill="#1e1e1e" stroke="none"/>
<polygon points="376.60,207.10 374.90,214.10 378.30,214.10" fill="#1e1e1e" stroke="none"/>
<line x1="361.00" y1="225.50" x2="376.60" y2="225.50" stroke="#1e1e1e" stroke-width="1.0" />
<text transform="translate(361.00,222.80) scale(1,1.12)" font-size="11.6" font-weight="bold" font-style="normal" text-anchor="start" fill="#1a1a1a" stroke="#1a1a1a" stroke-width="0.25" >14</text>
<line x1="355.00" y1="145.00" x2="364.60" y2="145.00" stroke="#1e1e1e" stroke-width="2.0" />
<path d="M377.8,88.7 H364.6 V153.8 H377.8" fill="none" stroke="#1e1e1e" stroke-width="2.0" stroke-linejoin="round" />
<line x1="372.00" y1="88.70" x2="372.00" y2="153.80" stroke="#1e1e1e" stroke-width="2.0" />
<line x1="377.50" y1="88.70" x2="377.50" y2="153.80" stroke="#1e1e1e" stroke-width="1.0" />
<path d="M377.8,88.7 Q383,88.2 388.3,86.4" fill="none" stroke="#1e1e1e" stroke-width="1.0" stroke-linejoin="round" />
<path d="M377.8,153.8 Q383,154.3 388.3,156" fill="none" stroke="#1e1e1e" stroke-width="1.0" stroke-linejoin="round" />
<line x1="389.00" y1="84.10" x2="389.00" y2="157.90" stroke="#1e1e1e" stroke-width="2.2" />
<line x1="389.00" y1="84.50" x2="395.00" y2="84.50" stroke="#1e1e1e" stroke-width="1.0" />
<line x1="389.00" y1="157.50" x2="395.00" y2="157.50" stroke="#1e1e1e" stroke-width="1.0" />
<line x1="395.50" y1="78.20" x2="395.50" y2="93.00" stroke="#1e1e1e" stroke-width="1.4" />
<line x1="395.50" y1="150.50" x2="395.50" y2="164.00" stroke="#1e1e1e" stroke-width="1.4" />
<line x1="395.00" y1="79.00" x2="403.00" y2="79.00" stroke="#1e1e1e" stroke-width="2.0" />
<line x1="452.00" y1="79.00" x2="494.00" y2="79.00" stroke="#1e1e1e" stroke-width="2.0" />
<line x1="395.00" y1="163.00" x2="489.00" y2="163.00" stroke="#1e1e1e" stroke-width="2.2" />
<line x1="395.00" y1="100.00" x2="463.50" y2="100.00" stroke="#1e1e1e" stroke-width="2.1" />
<line x1="395.00" y1="106.00" x2="463.50" y2="106.00" stroke="#1e1e1e" stroke-width="2.1" />
<line x1="395.00" y1="112.00" x2="463.50" y2="112.00" stroke="#1e1e1e" stroke-width="2.1" />
<line x1="395.00" y1="118.00" x2="463.50" y2="118.00" stroke="#1e1e1e" stroke-width="2.1" />
<line x1="395.00" y1="124.00" x2="463.50" y2="124.00" stroke="#1e1e1e" stroke-width="2.1" />
<line x1="395.00" y1="131.00" x2="463.50" y2="131.00" stroke="#1e1e1e" stroke-width="2.1" />
<line x1="395.00" y1="137.00" x2="463.50" y2="137.00" stroke="#1e1e1e" stroke-width="2.1" />
<line x1="395.00" y1="143.00" x2="463.50" y2="143.00" stroke="#1e1e1e" stroke-width="2.1" />
<line x1="463.50" y1="79.40" x2="463.50" y2="163.00" stroke="#1e1e1e" stroke-width="1.0" />
<line x1="395.00" y1="81.50" x2="403.00" y2="81.50" stroke="#1e1e1e" stroke-width="1" />
<line x1="452.00" y1="81.50" x2="463.50" y2="81.50" stroke="#1e1e1e" stroke-width="1" />
<line x1="395.00" y1="84.50" x2="411.00" y2="84.50" stroke="#1e1e1e" stroke-width="1" />
<line x1="445.00" y1="84.50" x2="463.50" y2="84.50" stroke="#1e1e1e" stroke-width="1" />
<line x1="395.00" y1="92.50" x2="411.00" y2="92.50" stroke="#1e1e1e" stroke-width="1" />
<line x1="445.00" y1="92.50" x2="463.50" y2="92.50" stroke="#1e1e1e" stroke-width="1" />
<rect x="411.50" y="83.50" width="34.00" height="10.00" rx="0" fill="none" stroke="#1e1e1e" stroke-width="1.2" />
<path d="M404.5,83.4 L402.5,57 Q402.5,54 405,54 H451 Q453.7,54 453.7,57 L452,83.4" fill="none" stroke="#1e1e1e" stroke-width="2.0" stroke-linejoin="round" />
<line x1="403.00" y1="54.50" x2="453.40" y2="54.50" stroke="#1e1e1e" stroke-width="3.0" />
<line x1="403.00" y1="62.50" x2="453.00" y2="62.50" stroke="#1e1e1e" stroke-width="1.0" />
<line x1="412.50" y1="62.00" x2="412.50" y2="83.40" stroke="#1e1e1e" stroke-width="1.0" />
<line x1="443.50" y1="62.00" x2="443.50" y2="83.40" stroke="#1e1e1e" stroke-width="1.0" />
<line x1="404.50" y1="83.50" x2="452.00" y2="83.50" stroke="#1e1e1e" stroke-width="1.0" />
<polygon points="436.60,72.90 432.40,80.17 424.00,80.17 419.80,72.90 424.00,65.63 432.40,65.63" fill="#fff" stroke="#1e1e1e" stroke-width="1.3"/>
<circle cx="428.20" cy="72.90" r="5.50" fill="none" stroke="#1e1e1e" stroke-width="1.0" />
<circle cx="428.20" cy="72.90" r="4.30" fill="none" stroke="#1e1e1e" stroke-width="1.3" />
<path d="M494,79 C503,79 509.3,85 509.3,92 V151.8 C509.3,158 500,163 488.7,163" fill="none" stroke="#1e1e1e" stroke-width="2.0" stroke-linejoin="round" />
<line x1="509.50" y1="92.00" x2="509.50" y2="151.80" stroke="#1e1e1e" stroke-width="2.8" />
<path d="M494,79 H509 C520,79 527.8,85 527.8,91.5 M527.8,150.9 C527.8,158 518,163 497,163" fill="none" stroke="#1e1e1e" stroke-width="1.0" stroke-linejoin="round" />
<line x1="527.50" y1="92.00" x2="527.50" y2="118.00" stroke="#1e1e1e" stroke-width="2.6" />
<line x1="527.50" y1="124.00" x2="527.50" y2="150.90" stroke="#1e1e1e" stroke-width="2.6" />
<line x1="395.00" y1="151.50" x2="463.50" y2="151.50" stroke="#1e1e1e" stroke-width="0.9" />
<line x1="395.00" y1="157.50" x2="463.50" y2="157.50" stroke="#1e1e1e" stroke-width="0.9" />
<line x1="395.00" y1="160.50" x2="463.50" y2="160.50" stroke="#1e1e1e" stroke-width="0.9" />
<line x1="451.00" y1="53.50" x2="478.00" y2="53.50" stroke="#1e1e1e" stroke-width="1.0" />
<line x1="476.50" y1="53.40" x2="476.50" y2="91.00" stroke="#1e1e1e" stroke-width="1.0" />
<line x1="476.50" y1="103.50" x2="476.50" y2="121.80" stroke="#1e1e1e" stroke-width="1.0" />
<polygon points="476.50,53.40 474.80,60.40 478.20,60.40" fill="#1e1e1e" stroke="none"/>
<polygon points="476.50,121.80 474.80,114.80 478.20,114.80" fill="#1e1e1e" stroke="none"/>
<text x="476.30" y="102.00" font-size="12" font-weight="bold" font-style="normal" text-anchor="middle" fill="#1a1a1a" stroke="#1a1a1a" stroke-width="0" >n1</text>
<line x1="488.50" y1="79.40" x2="488.50" y2="134.50" stroke="#1e1e1e" stroke-width="1.0" />
<line x1="488.50" y1="146.00" x2="488.50" y2="163.00" stroke="#1e1e1e" stroke-width="1.0" />
<polygon points="488.30,79.40 486.60,86.40 490.00,86.40" fill="#1e1e1e" stroke="none"/>
<polygon points="488.30,163.00 486.60,156.00 490.00,156.00" fill="#1e1e1e" stroke="none"/>
<text x="488.30" y="144.50" font-size="12" font-weight="bold" font-style="normal" text-anchor="middle" fill="#1a1a1a" stroke="#1a1a1a" stroke-width="0" >n</text>
</g>
<g transform="translate(-2,428)">
<path d="M645,84.9 L643,57.5 Q643,54.7 646,54.7 H691.5 Q694.2,54.7 694.2,57.5 L692.4,84.9" fill="none" stroke="#1e1e1e" stroke-width="2.0" stroke-linejoin="round" />
<path d="M643,57.5 L645.5,53 H691.5 L694.2,57.5 Z" fill="#1e1e1e" stroke="#1e1e1e" stroke-width="1.0" stroke-linejoin="round" />
<line x1="643.50" y1="62.50" x2="694.00" y2="62.50" stroke="#1e1e1e" stroke-width="1.0" />
<line x1="652.50" y1="62.40" x2="652.50" y2="88.00" stroke="#1e1e1e" stroke-width="1.0" />
<line x1="684.50" y1="62.40" x2="684.50" y2="88.00" stroke="#1e1e1e" stroke-width="1.0" />
<line x1="659.00" y1="79.60" x2="659.00" y2="85.00" stroke="#1e1e1e" stroke-width="2.0" />
<line x1="665.00" y1="79.60" x2="665.00" y2="85.00" stroke="#1e1e1e" stroke-width="2.0" />
<line x1="672.00" y1="79.60" x2="672.00" y2="85.00" stroke="#1e1e1e" stroke-width="2.0" />
<line x1="678.00" y1="79.60" x2="678.00" y2="85.00" stroke="#1e1e1e" stroke-width="2.0" />
<line x1="644.00" y1="83.50" x2="693.00" y2="83.50" stroke="#1e1e1e" stroke-width="1.0" />
<line x1="645.50" y1="84.00" x2="645.50" y2="96.00" stroke="#1e1e1e" stroke-width="1.0" />
<line x1="691.50" y1="84.00" x2="691.50" y2="96.00" stroke="#1e1e1e" stroke-width="1.0" />
<line x1="692.50" y1="64.00" x2="701.00" y2="64.00" stroke="#1e1e1e" stroke-width="1.6" />
<line x1="692.50" y1="80.00" x2="701.00" y2="80.00" stroke="#1e1e1e" stroke-width="1.6" />
<line x1="696.50" y1="64.00" x2="696.50" y2="80.50" stroke="#1e1e1e" stroke-width="1.0" />
<path d="M701,63.5 H709 Q714.5,64 714.5,72.3 Q714.5,81 709,81 H701 Z" fill="none" stroke="#1e1e1e" stroke-width="1.8" stroke-linejoin="round" />
<line x1="702.00" y1="63.50" x2="702.00" y2="81.00" stroke="#1e1e1e" stroke-width="1.6" />
<path d="M709.5,64 Q711.5,72 709.5,81" fill="none" stroke="#1e1e1e" stroke-width="1.0" stroke-linejoin="round" />
<line x1="701.50" y1="72.00" x2="709.50" y2="72.00" stroke="#1e1e1e" stroke-width="1.8" />
<path d="M645.7,84.8 C636,91 628,100 627.2,111 C626.5,120 627.5,128 628.8,133 C629.5,137 630.5,140 631,143" fill="none" stroke="#1e1e1e" stroke-width="3.0" stroke-linejoin="round" />
<path d="M691.5,84.8 C701,91 708.6,100 709.4,111 C710,120 709.3,128 708,133 C707.3,137 706.3,140 705.8,143" fill="none" stroke="#1e1e1e" stroke-width="3.0" stroke-linejoin="round" />
<line x1="635.50" y1="123.00" x2="635.50" y2="145.00" stroke="#1e1e1e" stroke-width="1.0" />
<line x1="702.50" y1="123.00" x2="702.50" y2="145.00" stroke="#1e1e1e" stroke-width="1.0" />
<line x1="629.00" y1="102.00" x2="635.00" y2="102.00" stroke="#1e1e1e" stroke-width="2.2" />
<line x1="701.80" y1="102.00" x2="707.80" y2="102.00" stroke="#1e1e1e" stroke-width="2.2" />
<line x1="629.00" y1="107.00" x2="635.00" y2="107.00" stroke="#1e1e1e" stroke-width="2.2" />
<line x1="701.80" y1="107.00" x2="707.80" y2="107.00" stroke="#1e1e1e" stroke-width="2.2" />
<line x1="629.00" y1="112.00" x2="635.00" y2="112.00" stroke="#1e1e1e" stroke-width="2.2" />
<line x1="701.80" y1="112.00" x2="707.80" y2="112.00" stroke="#1e1e1e" stroke-width="2.2" />
<line x1="629.00" y1="118.00" x2="635.00" y2="118.00" stroke="#1e1e1e" stroke-width="2.2" />
<line x1="701.80" y1="118.00" x2="707.80" y2="118.00" stroke="#1e1e1e" stroke-width="2.2" />
<line x1="629.00" y1="123.00" x2="635.00" y2="123.00" stroke="#1e1e1e" stroke-width="2.2" />
<line x1="701.80" y1="123.00" x2="707.80" y2="123.00" stroke="#1e1e1e" stroke-width="2.2" />
<line x1="629.00" y1="128.00" x2="635.00" y2="128.00" stroke="#1e1e1e" stroke-width="2.2" />
<line x1="701.80" y1="128.00" x2="707.80" y2="128.00" stroke="#1e1e1e" stroke-width="2.2" />
<path d="M642.2,96.2 Q668.4,74.5 694.6,96.2" fill="none" stroke="#1e1e1e" stroke-width="1.0" stroke-linejoin="round" />
<path d="M645.7,96.8 Q668.4,81 691.9,96.8" fill="none" stroke="#1e1e1e" stroke-width="1.0" stroke-linejoin="round" />
<line x1="645.70" y1="96.50" x2="691.90" y2="96.50" stroke="#1e1e1e" stroke-width="1.0" />
<rect x="635.50" y="96.50" width="10.00" height="27.00" rx="0" fill="none" stroke="#1e1e1e" stroke-width="1.2" />
<rect x="637.50" y="99.50" width="6.00" height="6.00" rx="1.5" fill="none" stroke="#1e1e1e" stroke-width="1.0" />
<rect x="637.50" y="115.50" width="6.00" height="6.00" rx="1.5" fill="none" stroke="#1e1e1e" stroke-width="1.0" />
<circle cx="640.40" cy="110.50" r="2.40" fill="none" stroke="#1e1e1e" stroke-width="1.0" />
<line x1="636.80" y1="110.50" x2="644.00" y2="110.50" stroke="#1e1e1e" stroke-width="0.8" />
<line x1="640.50" y1="106.50" x2="640.50" y2="114.50" stroke="#1e1e1e" stroke-width="0.8" />
<rect x="692.50" y="96.50" width="10.00" height="27.00" rx="0" fill="none" stroke="#1e1e1e" stroke-width="1.2" />
<rect x="694.50" y="99.50" width="6.00" height="6.00" rx="1.5" fill="none" stroke="#1e1e1e" stroke-width="1.0" />
<rect x="694.50" y="115.50" width="6.00" height="6.00" rx="1.5" fill="none" stroke="#1e1e1e" stroke-width="1.0" />
<circle cx="697.90" cy="110.50" r="2.40" fill="none" stroke="#1e1e1e" stroke-width="1.0" />
<line x1="694.30" y1="110.50" x2="701.50" y2="110.50" stroke="#1e1e1e" stroke-width="0.8" />
<line x1="697.50" y1="106.50" x2="697.50" y2="114.50" stroke="#1e1e1e" stroke-width="0.8" />
<path d="M653.9,101.3 Q668.4,99 683.5,101.3 Q688.5,104 688,110 Q688.8,121.3 688,132 Q688.5,138 683.5,140.3 Q668.4,143.5 653.9,140.3 Q648.5,138 649,132 Q648.2,121.3 649,110 Q648.5,104 653.9,101.3 Z" fill="none" stroke="#1e1e1e" stroke-width="1.0" stroke-linejoin="round" />
<circle cx="668.40" cy="121.30" r="18.90" fill="none" stroke="#1e1e1e" stroke-width="1.2" />
<circle cx="668.40" cy="121.30" r="16.80" fill="none" stroke="#1e1e1e" stroke-width="1.6" />
<circle cx="653.90" cy="105.70" r="4.00" fill="#fff" stroke="#1e1e1e" stroke-width="1.2" />
<circle cx="653.90" cy="105.70" r="2.30" fill="none" stroke="#1e1e1e" stroke-width="1.0" />
<circle cx="683.50" cy="105.70" r="4.00" fill="#fff" stroke="#1e1e1e" stroke-width="1.2" />
<circle cx="683.50" cy="105.70" r="2.30" fill="none" stroke="#1e1e1e" stroke-width="1.0" />
<circle cx="653.90" cy="135.70" r="4.00" fill="#fff" stroke="#1e1e1e" stroke-width="1.2" />
<circle cx="653.90" cy="135.70" r="2.30" fill="none" stroke="#1e1e1e" stroke-width="1.0" />
<circle cx="683.50" cy="135.70" r="4.00" fill="#fff" stroke="#1e1e1e" stroke-width="1.2" />
<circle cx="683.50" cy="135.70" r="2.30" fill="none" stroke="#1e1e1e" stroke-width="1.0" />
<line x1="668.50" y1="56.00" x2="668.50" y2="212.00" stroke="#1e1e1e" stroke-width="0.8" stroke-dasharray="6,2,1.5,2"/>
<line x1="645.00" y1="121.50" x2="692.00" y2="121.50" stroke="#1e1e1e" stroke-width="0.8" stroke-dasharray="6,2,1.5,2"/>
<line x1="640.00" y1="160.50" x2="713.00" y2="160.50" stroke="#1e1e1e" stroke-width="0.8" stroke-dasharray="6,2,1.5,2"/>
<line x1="644.50" y1="96.80" x2="644.50" y2="178.80" stroke="#1e1e1e" stroke-width="1.0" />
<line x1="647.50" y1="123.00" x2="647.50" y2="178.80" stroke="#1e1e1e" stroke-width="1.0" />
<line x1="690.50" y1="123.00" x2="690.50" y2="178.80" stroke="#1e1e1e" stroke-width="1.0" />
<line x1="693.50" y1="96.80" x2="693.50" y2="178.80" stroke="#1e1e1e" stroke-width="1.0" />
<line x1="632.00" y1="140.00" x2="632.00" y2="185.00" stroke="#1e1e1e" stroke-width="2.0" />
<line x1="704.00" y1="140.00" x2="704.00" y2="185.00" stroke="#1e1e1e" stroke-width="2.0" />
<line x1="634.50" y1="145.00" x2="634.50" y2="179.00" stroke="#1e1e1e" stroke-width="1.0" />
<line x1="702.50" y1="145.00" x2="702.50" y2="179.00" stroke="#1e1e1e" stroke-width="1.0" />
<ellipse cx="636.6" cy="153" rx="3.6" ry="24.5" fill="none" stroke="#555" stroke-width="1"/>
<ellipse cx="700.6" cy="153" rx="3.6" ry="24.5" fill="none" stroke="#555" stroke-width="1"/>
<ellipse cx="653.8" cy="144.2" rx="2.4" ry="2.8" fill="none" stroke="#1e1e1e" stroke-width="1.1"/>
<ellipse cx="683.2" cy="144.2" rx="2.4" ry="2.8" fill="none" stroke="#1e1e1e" stroke-width="1.1"/>
<path d="M653.7,147.4 C650.5,152 650.2,156 650.9,160 C651.5,164 652.5,167 653.4,170" fill="none" stroke="#1e1e1e" stroke-width="1.1" stroke-linejoin="round" />
<path d="M683.1,147.4 C686.3,152 686.6,156 685.9,160 C685.3,164 684.3,167 683.4,170" fill="none" stroke="#1e1e1e" stroke-width="1.1" stroke-linejoin="round" />
<line x1="650.00" y1="156.40" x2="650.00" y2="202.00" stroke="#1e1e1e" stroke-width="2.0" />
<line x1="658.00" y1="156.40" x2="658.00" y2="202.00" stroke="#1e1e1e" stroke-width="2.0" />
<line x1="665.00" y1="156.40" x2="665.00" y2="202.00" stroke="#1e1e1e" stroke-width="2.0" />
<line x1="680.00" y1="156.40" x2="680.00" y2="202.00" stroke="#1e1e1e" stroke-width="2.0" />
<line x1="686.00" y1="156.40" x2="686.00" y2="202.00" stroke="#1e1e1e" stroke-width="2.0" />
<line x1="671.50" y1="156.40" x2="671.50" y2="204.50" stroke="#1e1e1e" stroke-width="1.0" />
<line x1="673.50" y1="156.40" x2="673.50" y2="204.50" stroke="#1e1e1e" stroke-width="1.0" />
<rect x="651.50" y="170.50" width="4.00" height="8.00" rx="0" fill="none" stroke="#1e1e1e" stroke-width="1.0" />
<rect x="681.50" y="170.50" width="4.00" height="8.00" rx="0" fill="none" stroke="#1e1e1e" stroke-width="1.0" />
<rect x="634.50" y="178.50" width="12.00" height="29.00" rx="0" fill="none" stroke="#1e1e1e" stroke-width="1.2" />
<rect x="637.50" y="182.50" width="6.00" height="7.00" rx="1.5" fill="none" stroke="#1e1e1e" stroke-width="1.0" />
<rect x="637.50" y="198.50" width="6.00" height="7.00" rx="1.5" fill="none" stroke="#1e1e1e" stroke-width="1.0" />
<circle cx="640.50" cy="193.00" r="2.40" fill="none" stroke="#1e1e1e" stroke-width="1.0" />
<line x1="637.00" y1="193.50" x2="644.00" y2="193.50" stroke="#1e1e1e" stroke-width="0.8" />
<line x1="640.50" y1="189.50" x2="640.50" y2="196.50" stroke="#1e1e1e" stroke-width="0.8" />
<rect x="691.50" y="178.50" width="11.00" height="29.00" rx="0" fill="none" stroke="#1e1e1e" stroke-width="1.2" />
<rect x="694.50" y="182.50" width="6.00" height="7.00" rx="1.5" fill="none" stroke="#1e1e1e" stroke-width="1.0" />
<rect x="694.50" y="198.50" width="6.00" height="7.00" rx="1.5" fill="none" stroke="#1e1e1e" stroke-width="1.0" />
<circle cx="697.00" cy="193.00" r="2.40" fill="none" stroke="#1e1e1e" stroke-width="1.0" />
<line x1="693.50" y1="193.50" x2="700.50" y2="193.50" stroke="#1e1e1e" stroke-width="0.8" />
<line x1="697.50" y1="189.50" x2="697.50" y2="196.50" stroke="#1e1e1e" stroke-width="0.8" />
<polyline points="646.00,206.50 651.00,202.00 686.00,202.00 691.00,206.50" fill="none" stroke="#1e1e1e" stroke-width="2.0" stroke-linejoin="round" />
<line x1="634.00" y1="207.00" x2="704.00" y2="207.00" stroke="#1e1e1e" stroke-width="1.6" />
<g transform="translate(-3,0)">
<line x1="594.00" y1="109.50" x2="627.00" y2="109.50" stroke="#1e1e1e" stroke-width="1.0" />
<line x1="594.00" y1="193.50" x2="636.00" y2="193.50" stroke="#1e1e1e" stroke-width="1.0" />
<line x1="594.50" y1="109.40" x2="594.50" y2="129.00" stroke="#1e1e1e" stroke-width="1.0" />
<line x1="594.50" y1="141.50" x2="594.50" y2="193.40" stroke="#1e1e1e" stroke-width="1.0" />
<polygon points="594.20,109.40 592.50,116.40 595.90,116.40" fill="#1e1e1e" stroke="none"/>
<polygon points="594.20,193.40 592.50,186.40 595.90,186.40" fill="#1e1e1e" stroke="none"/>
<text transform="translate(594.00,140.00) scale(1,1.12)" font-size="11.6" font-weight="bold" font-style="normal" text-anchor="middle" fill="#1a1a1a" stroke="#1a1a1a" stroke-width="0.25" >195</text>
<line x1="612.00" y1="134.50" x2="631.00" y2="134.50" stroke="#1e1e1e" stroke-width="1.0" />
<line x1="612.00" y1="184.50" x2="633.00" y2="184.50" stroke="#1e1e1e" stroke-width="1.0" />
<line x1="612.50" y1="134.80" x2="612.50" y2="154.50" stroke="#1e1e1e" stroke-width="1.0" />
<line x1="612.50" y1="165.50" x2="612.50" y2="184.30" stroke="#1e1e1e" stroke-width="1.0" />
<polygon points="612.30,134.80 610.60,141.80 614.00,141.80" fill="#1e1e1e" stroke="none"/>
<polygon points="612.30,184.30 610.60,177.30 614.00,177.30" fill="#1e1e1e" stroke="none"/>
<text transform="translate(612.40,164.00) scale(1,1.12)" font-size="11.6" font-weight="bold" font-style="normal" text-anchor="middle" fill="#1a1a1a" stroke="#1a1a1a" stroke-width="0.25" >Ø110</text>
</g>
<line x1="707.00" y1="109.50" x2="772.00" y2="109.50" stroke="#1e1e1e" stroke-width="1.0" />
<line x1="770.50" y1="109.80" x2="770.50" y2="124.00" stroke="#1e1e1e" stroke-width="1.0" />
<line x1="770.50" y1="135.00" x2="770.50" y2="159.60" stroke="#1e1e1e" stroke-width="1.0" />
<polygon points="770.20,109.80 768.50,116.80 771.90,116.80" fill="#1e1e1e" stroke="none"/>
<polygon points="770.20,159.60 768.50,152.60 771.90,152.60" fill="#1e1e1e" stroke="none"/>
<text transform="translate(769.80,133.80) scale(1,1.12)" font-size="11.6" font-weight="bold" font-style="normal" text-anchor="middle" fill="#1a1a1a" stroke="#1a1a1a" stroke-width="0.25" >115</text>
<line x1="669.00" y1="120.50" x2="754.50" y2="120.50" stroke="#1e1e1e" stroke-width="1.0" />
<line x1="752.50" y1="120.90" x2="752.50" y2="135.00" stroke="#1e1e1e" stroke-width="1.0" />
<line x1="752.50" y1="146.00" x2="752.50" y2="159.60" stroke="#1e1e1e" stroke-width="1.0" />
<polygon points="752.60,120.90 750.90,127.90 754.30,127.90" fill="#1e1e1e" stroke="none"/>
<polygon points="752.60,159.60 750.90,152.60 754.30,152.60" fill="#1e1e1e" stroke="none"/>
<text transform="translate(752.50,144.70) scale(1,1.12)" font-size="11.6" font-weight="bold" font-style="normal" text-anchor="middle" fill="#1a1a1a" stroke="#1a1a1a" stroke-width="0.25" >100</text>
<line x1="700.00" y1="159.50" x2="772.00" y2="159.50" stroke="#1e1e1e" stroke-width="1.0" />
<text transform="translate(598.80,210.00) scale(1,1.12)" font-size="11.6" font-weight="bold" font-style="normal" text-anchor="start" fill="#1a1a1a" stroke="#1a1a1a" stroke-width="0.25" >Ø13</text>
<polyline points="599.00,212.50 624.20,212.50 638.00,197.70" fill="none" stroke="#1e1e1e" stroke-width="1.0" stroke-linejoin="round" />
<line x1="640.50" y1="179.50" x2="640.50" y2="227.00" stroke="#1e1e1e" stroke-width="1.0" />
<line x1="696.50" y1="179.50" x2="696.50" y2="227.00" stroke="#1e1e1e" stroke-width="1.0" />
<line x1="640.50" y1="224.50" x2="696.20" y2="224.50" stroke="#1e1e1e" stroke-width="1.0" />
<polygon points="640.50,224.80 647.50,223.10 647.50,226.50" fill="#1e1e1e" stroke="none"/>
<polygon points="696.20,224.80 689.20,223.10 689.20,226.50" fill="#1e1e1e" stroke="none"/>
<text transform="translate(668.30,222.70) scale(1,1.12)" font-size="11.6" font-weight="bold" font-style="normal" text-anchor="middle" fill="#1a1a1a" stroke="#1a1a1a" stroke-width="0.25" >110</text>
<line x1="634.50" y1="207.00" x2="634.50" y2="262.00" stroke="#1e1e1e" stroke-width="1.0" />
<line x1="703.50" y1="207.00" x2="703.50" y2="262.00" stroke="#1e1e1e" stroke-width="1.0" />
<line x1="634.50" y1="242.50" x2="703.60" y2="242.50" stroke="#1e1e1e" stroke-width="1.0" />
<polygon points="634.50,242.20 641.50,240.50 641.50,243.90" fill="#1e1e1e" stroke="none"/>
<polygon points="703.60,242.20 696.60,240.50 696.60,243.90" fill="#1e1e1e" stroke="none"/>
<text transform="translate(668.30,240.00) scale(1,1.12)" font-size="11.6" font-weight="bold" font-style="normal" text-anchor="middle" fill="#1a1a1a" stroke="#1a1a1a" stroke-width="0.25" >135</text>
<line x1="634.50" y1="259.50" x2="703.60" y2="259.50" stroke="#1e1e1e" stroke-width="1.0" />
<polygon points="634.50,259.50 641.50,257.80 641.50,261.20" fill="#1e1e1e" stroke="none"/>
<polygon points="703.60,259.50 696.60,257.80 696.60,261.20" fill="#1e1e1e" stroke="none"/>
<text transform="translate(668.30,256.60) scale(1,1.12)" font-size="11.6" font-weight="bold" font-style="normal" text-anchor="middle" fill="#1a1a1a" stroke="#1a1a1a" stroke-width="0.25" >140</text>
<line x1="668.40" y1="39.50" x2="740.20" y2="39.50" stroke="#1e1e1e" stroke-width="1.0" />
<polygon points="668.40,39.60 675.40,37.90 675.40,41.30" fill="#1e1e1e" stroke="none"/>
<polygon points="740.20,39.60 733.20,37.90 733.20,41.30" fill="#1e1e1e" stroke="none"/>
<line x1="740.50" y1="38.00" x2="740.50" y2="151.50" stroke="#1e1e1e" stroke-width="1.0" />
<text transform="translate(704.50,37.60) scale(1,1.12)" font-size="11.6" font-weight="bold" font-style="normal" text-anchor="middle" fill="#1a1a1a" stroke="#1a1a1a" stroke-width="0.25" >165</text>
<rect x="706.50" y="149.50" width="3.00" height="21.00" rx="0" fill="none" stroke="#1e1e1e" stroke-width="1.4" />
<rect x="709.00" y="152.00" width="31.00" height="15.00" rx="0" fill="none" stroke="#1e1e1e" stroke-width="1.6" />
<rect x="713.50" y="156.50" width="23.00" height="7.00" rx="3.3" fill="none" stroke="#1e1e1e" stroke-width="1.2" />
<line x1="714.50" y1="157.00" x2="714.50" y2="163.50" stroke="#1e1e1e" stroke-width="0.9" />
<line x1="735.50" y1="157.00" x2="735.50" y2="163.50" stroke="#1e1e1e" stroke-width="0.9" />
<line x1="716.00" y1="160.50" x2="734.00" y2="160.50" stroke="#1e1e1e" stroke-width="0.7" stroke-dasharray="3,1.5"/>
<rect x="628.00" y="152.00" width="3.00" height="16.00" rx="0" fill="none" stroke="#1e1e1e" stroke-width="2.0" />
</g>
<text transform="translate(271.60,709.20) scale(1,1.12)" font-size="11.6" font-weight="bold" font-style="normal" text-anchor="start" fill="#1a1a1a" stroke="#1a1a1a" stroke-width="0.25" >45</text>
<line x1="269.10" y1="712.50" x2="316.90" y2="712.50" stroke="#1e1e1e" stroke-width="1.0" />
<polygon points="297.60,712.00 303.60,710.50 303.60,713.50" fill="#1e1e1e" stroke="none"/>
<polygon points="315.80,712.00 309.80,710.50 309.80,713.50" fill="#1e1e1e" stroke="none"/>
<line x1="297.50" y1="712.00" x2="297.50" y2="730.00" stroke="#1e1e1e" stroke-width="1.0" />
<line x1="315.50" y1="712.00" x2="315.50" y2="726.00" stroke="#1e1e1e" stroke-width="1.0" />
<line x1="297.60" y1="712.00" x2="306.00" y2="720.50" stroke="#1e1e1e" stroke-width="0.8" />
<line x1="291.50" y1="712.00" x2="291.50" y2="748.30" stroke="#1e1e1e" stroke-width="1.0" />
<polygon points="291.30,726.00 289.80,720.00 292.80,720.00" fill="#1e1e1e" stroke="none"/>
<polygon points="291.30,730.00 289.80,736.00 292.80,736.00" fill="#1e1e1e" stroke="none"/>
<line x1="277.30" y1="748.50" x2="291.30" y2="748.50" stroke="#1e1e1e" stroke-width="1.0" />
<text transform="translate(277.30,745.60) scale(1,1.12)" font-size="11.6" font-weight="bold" font-style="normal" text-anchor="start" fill="#1a1a1a" stroke="#1a1a1a" stroke-width="0.25" >12</text>
<line x1="291.30" y1="726.50" x2="300.00" y2="726.50" stroke="#1e1e1e" stroke-width="1.0" />
<line x1="291.30" y1="730.50" x2="300.00" y2="730.50" stroke="#1e1e1e" stroke-width="1.0" />
<circle cx="307.50" cy="727.00" r="7.00" fill="none" stroke="#1e1e1e" stroke-width="2.2" />
<circle cx="307.50" cy="727.00" r="2.00" fill="none" stroke="#1e1e1e" stroke-width="0.8" />
<line x1="302.00" y1="722.00" x2="313.00" y2="732.00" stroke="#1e1e1e" stroke-width="0.7" />
<line x1="302.00" y1="732.00" x2="313.00" y2="722.00" stroke="#1e1e1e" stroke-width="0.7" />
<text transform="translate(324.00,745.60) scale(1,1.12)" font-size="11.6" font-weight="bold" font-style="normal" text-anchor="start" fill="#1a1a1a" stroke="#1a1a1a" stroke-width="0.25" >M16</text>
<polyline points="346.60,748.50 321.20,748.50 312.30,734.00" fill="none" stroke="#1e1e1e" stroke-width="1.0" stroke-linejoin="round" />
<text x="508" y="690.2" font-size="9.4" font-weight="bold" fill="#1a1a1a">+0.02</text>
<text x="514.00" y="698.00" font-size="8.5" font-weight="bold" font-style="normal" text-anchor="start" fill="#1a1a1a" stroke="#1a1a1a" stroke-width="0.15" >0</text>
<text transform="translate(500.00,705.20) scale(1,1.12)" font-size="11.6" font-weight="bold" font-style="normal" text-anchor="start" fill="#1a1a1a" stroke="#1a1a1a" stroke-width="0.25" >42</text>
<line x1="498.00" y1="707.50" x2="513.00" y2="707.50" stroke="#1e1e1e" stroke-width="1.0" />
<line x1="498.50" y1="707.40" x2="498.50" y2="747.00" stroke="#1e1e1e" stroke-width="1.0" />
<polygon points="498.00,719.00 496.50,713.00 499.50,713.00" fill="#1e1e1e" stroke="none"/>
<polygon points="498.00,736.00 496.50,742.00 499.50,742.00" fill="#1e1e1e" stroke="none"/>
<clipPath id="hc3"><polygon points="379.00,714.00 397.00,714.00 397.00,711.00 437.00,711.00 437.00,714.00 455.00,714.00 455.00,719.00 379.00,719.00"/></clipPath>
<g clip-path="url(#hc3)">
<line x1="371.00" y1="719.00" x2="379.00" y2="711.00" stroke="#1e1e1e" stroke-width="1.3"/>
<line x1="375.20" y1="719.00" x2="383.20" y2="711.00" stroke="#1e1e1e" stroke-width="1.3"/>
<line x1="379.40" y1="719.00" x2="387.40" y2="711.00" stroke="#1e1e1e" stroke-width="1.3"/>
<line x1="383.60" y1="719.00" x2="391.60" y2="711.00" stroke="#1e1e1e" stroke-width="1.3"/>
<line x1="387.80" y1="719.00" x2="395.80" y2="711.00" stroke="#1e1e1e" stroke-width="1.3"/>
<line x1="392.00" y1="719.00" x2="400.00" y2="711.00" stroke="#1e1e1e" stroke-width="1.3"/>
<line x1="396.20" y1="719.00" x2="404.20" y2="711.00" stroke="#1e1e1e" stroke-width="1.3"/>
<line x1="400.40" y1="719.00" x2="408.40" y2="711.00" stroke="#1e1e1e" stroke-width="1.3"/>
<line x1="404.60" y1="719.00" x2="412.60" y2="711.00" stroke="#1e1e1e" stroke-width="1.3"/>
<line x1="408.80" y1="719.00" x2="416.80" y2="711.00" stroke="#1e1e1e" stroke-width="1.3"/>
<line x1="413.00" y1="719.00" x2="421.00" y2="711.00" stroke="#1e1e1e" stroke-width="1.3"/>
<line x1="417.20" y1="719.00" x2="425.20" y2="711.00" stroke="#1e1e1e" stroke-width="1.3"/>
<line x1="421.40" y1="719.00" x2="429.40" y2="711.00" stroke="#1e1e1e" stroke-width="1.3"/>
<line x1="425.60" y1="719.00" x2="433.60" y2="711.00" stroke="#1e1e1e" stroke-width="1.3"/>
<line x1="429.80" y1="719.00" x2="437.80" y2="711.00" stroke="#1e1e1e" stroke-width="1.3"/>
<line x1="434.00" y1="719.00" x2="442.00" y2="711.00" stroke="#1e1e1e" stroke-width="1.3"/>
<line x1="438.20" y1="719.00" x2="446.20" y2="711.00" stroke="#1e1e1e" stroke-width="1.3"/>
<line x1="442.40" y1="719.00" x2="450.40" y2="711.00" stroke="#1e1e1e" stroke-width="1.3"/>
<line x1="446.60" y1="719.00" x2="454.60" y2="711.00" stroke="#1e1e1e" stroke-width="1.3"/>
<line x1="450.80" y1="719.00" x2="458.80" y2="711.00" stroke="#1e1e1e" stroke-width="1.3"/>
<line x1="455.00" y1="719.00" x2="463.00" y2="711.00" stroke="#1e1e1e" stroke-width="1.3"/>
<line x1="459.20" y1="719.00" x2="467.20" y2="711.00" stroke="#1e1e1e" stroke-width="1.3"/>
</g>
<clipPath id="hc4"><polygon points="379.00,741.00 397.00,741.00 397.00,743.60 437.00,743.60 437.00,741.00 455.00,741.00 455.00,736.00 379.00,736.00"/></clipPath>
<g clip-path="url(#hc4)">
<line x1="371.40" y1="743.60" x2="379.00" y2="736.00" stroke="#1e1e1e" stroke-width="1.3"/>
<line x1="375.60" y1="743.60" x2="383.20" y2="736.00" stroke="#1e1e1e" stroke-width="1.3"/>
<line x1="379.80" y1="743.60" x2="387.40" y2="736.00" stroke="#1e1e1e" stroke-width="1.3"/>
<line x1="384.00" y1="743.60" x2="391.60" y2="736.00" stroke="#1e1e1e" stroke-width="1.3"/>
<line x1="388.20" y1="743.60" x2="395.80" y2="736.00" stroke="#1e1e1e" stroke-width="1.3"/>
<line x1="392.40" y1="743.60" x2="400.00" y2="736.00" stroke="#1e1e1e" stroke-width="1.3"/>
<line x1="396.60" y1="743.60" x2="404.20" y2="736.00" stroke="#1e1e1e" stroke-width="1.3"/>
<line x1="400.80" y1="743.60" x2="408.40" y2="736.00" stroke="#1e1e1e" stroke-width="1.3"/>
<line x1="405.00" y1="743.60" x2="412.60" y2="736.00" stroke="#1e1e1e" stroke-width="1.3"/>
<line x1="409.20" y1="743.60" x2="416.80" y2="736.00" stroke="#1e1e1e" stroke-width="1.3"/>
<line x1="413.40" y1="743.60" x2="421.00" y2="736.00" stroke="#1e1e1e" stroke-width="1.3"/>
<line x1="417.60" y1="743.60" x2="425.20" y2="736.00" stroke="#1e1e1e" stroke-width="1.3"/>
<line x1="421.80" y1="743.60" x2="429.40" y2="736.00" stroke="#1e1e1e" stroke-width="1.3"/>
<line x1="426.00" y1="743.60" x2="433.60" y2="736.00" stroke="#1e1e1e" stroke-width="1.3"/>
<line x1="430.20" y1="743.60" x2="437.80" y2="736.00" stroke="#1e1e1e" stroke-width="1.3"/>
<line x1="434.40" y1="743.60" x2="442.00" y2="736.00" stroke="#1e1e1e" stroke-width="1.3"/>
<line x1="438.60" y1="743.60" x2="446.20" y2="736.00" stroke="#1e1e1e" stroke-width="1.3"/>
<line x1="442.80" y1="743.60" x2="450.40" y2="736.00" stroke="#1e1e1e" stroke-width="1.3"/>
<line x1="447.00" y1="743.60" x2="454.60" y2="736.00" stroke="#1e1e1e" stroke-width="1.3"/>
<line x1="451.20" y1="743.60" x2="458.80" y2="736.00" stroke="#1e1e1e" stroke-width="1.3"/>
<line x1="455.40" y1="743.60" x2="463.00" y2="736.00" stroke="#1e1e1e" stroke-width="1.3"/>
<line x1="459.60" y1="743.60" x2="467.20" y2="736.00" stroke="#1e1e1e" stroke-width="1.3"/>
</g>
<path d="M379.5,741 V714 H397 V711 H406 L407,709.5 H414 L415,711 H437 V714 H455 V741 H437 V743.6 H415 L414,745 H407 L406,743.6 H397 V741 Z" fill="none" stroke="#1e1e1e" stroke-width="1.8" stroke-linejoin="round" />
<line x1="380.50" y1="718.00" x2="380.50" y2="736.00" stroke="#1e1e1e" stroke-width="2.6" />
<line x1="379.50" y1="719.50" x2="455.00" y2="719.50" stroke="#1e1e1e" stroke-width="1.2" />
<line x1="379.50" y1="736.50" x2="455.00" y2="736.50" stroke="#1e1e1e" stroke-width="1.2" />
<rect x="402.50" y="720.50" width="31.00" height="15.00" rx="0" fill="none" stroke="#1e1e1e" stroke-width="1.0" />
<rect x="383.50" y="725.50" width="25.00" height="4.00" rx="2.2" fill="none" stroke="#1e1e1e" stroke-width="1.0" />
<circle cx="385.50" cy="727.40" r="1.10" fill="#1e1e1e" stroke="#1e1e1e" stroke-width="0" />
<circle cx="405.50" cy="727.40" r="1.10" fill="#1e1e1e" stroke="#1e1e1e" stroke-width="0" />
<rect x="427.50" y="725.50" width="25.00" height="4.00" rx="2.2" fill="none" stroke="#1e1e1e" stroke-width="1.0" />
<circle cx="429.50" cy="727.40" r="1.10" fill="#1e1e1e" stroke="#1e1e1e" stroke-width="0" />
<circle cx="449.50" cy="727.40" r="1.10" fill="#1e1e1e" stroke="#1e1e1e" stroke-width="0" />
<rect x="461.50" y="725.50" width="25.00" height="4.00" rx="2.2" fill="none" stroke="#1e1e1e" stroke-width="1.0" />
<circle cx="463.50" cy="727.40" r="1.10" fill="#1e1e1e" stroke="#1e1e1e" stroke-width="0" />
<circle cx="483.50" cy="727.40" r="1.10" fill="#1e1e1e" stroke="#1e1e1e" stroke-width="0" />
<line x1="381.00" y1="727.50" x2="455.00" y2="727.50" stroke="#1e1e1e" stroke-width="0.8" stroke-dasharray="6,2,1.5,2"/>
<line x1="379.50" y1="741.00" x2="379.50" y2="770.00" stroke="#1e1e1e" stroke-width="1.0" />
<line x1="455.50" y1="741.00" x2="455.50" y2="770.00" stroke="#1e1e1e" stroke-width="1.0" />
<line x1="379.00" y1="768.50" x2="455.00" y2="768.50" stroke="#1e1e1e" stroke-width="1.0" />
<polygon points="379.00,768.00 386.00,766.30 386.00,769.70" fill="#1e1e1e" stroke="none"/>
<polygon points="455.00,768.00 448.00,766.30 448.00,769.70" fill="#1e1e1e" stroke="none"/>
<text transform="translate(417.00,766.40) scale(1,1.12)" font-size="11.6" font-weight="bold" font-style="normal" text-anchor="middle" fill="#1a1a1a" stroke="#1a1a1a" stroke-width="0.25" >156</text>
<rect x="455.50" y="716.50" width="3.00" height="24.00" rx="0" fill="none" stroke="#1e1e1e" stroke-width="1.2" />
<rect x="458.00" y="719.00" width="32.00" height="17.00" rx="0" fill="none" stroke="#1e1e1e" stroke-width="1.6" />
<line x1="489.60" y1="719.50" x2="498.00" y2="719.50" stroke="#1e1e1e" stroke-width="1.0" />
<line x1="489.60" y1="736.50" x2="498.00" y2="736.50" stroke="#1e1e1e" stroke-width="1.0" />
<line x1="458.50" y1="736.00" x2="458.50" y2="756.00" stroke="#1e1e1e" stroke-width="1.0" />
<line x1="489.50" y1="736.00" x2="489.50" y2="770.00" stroke="#1e1e1e" stroke-width="1.0" />
<line x1="458.00" y1="752.50" x2="489.60" y2="752.50" stroke="#1e1e1e" stroke-width="1.0" />
<polygon points="458.00,752.40 465.00,750.70 465.00,754.10" fill="#1e1e1e" stroke="none"/>
<polygon points="489.60,752.40 482.60,750.70 482.60,754.10" fill="#1e1e1e" stroke="none"/>
<text transform="translate(473.50,750.00) scale(1,1.12)" font-size="11.6" font-weight="bold" font-style="normal" text-anchor="middle" fill="#1a1a1a" stroke="#1a1a1a" stroke-width="0.25" >80</text>
<line x1="455.00" y1="768.50" x2="491.00" y2="768.50" stroke="#1e1e1e" stroke-width="1.0" />
<polygon points="455.00,768.00 462.00,766.30 462.00,769.70" fill="#1e1e1e" stroke="none"/>
<polygon points="489.60,768.00 482.60,766.30 482.60,769.70" fill="#1e1e1e" stroke="none"/>
<text transform="translate(472.00,766.40) scale(1,1.12)" font-size="11.6" font-weight="bold" font-style="normal" text-anchor="middle" fill="#1a1a1a" stroke="#1a1a1a" stroke-width="0.25" >87</text>
<rect x="144.4" y="846.6" width="268.0" height="23.399999999999977" fill="#d9d9d9"/>
<rect x="144.4" y="846.6" width="56.19999999999999" height="115.69999999999993" fill="#d9d9d9"/>
<line x1="144.50" y1="846.60" x2="144.50" y2="962.30" stroke="#1e1e1e" stroke-width="1.3" />
<line x1="200.50" y1="846.60" x2="200.50" y2="962.30" stroke="#1e1e1e" stroke-width="1.3" />
<line x1="242.50" y1="846.60" x2="242.50" y2="962.30" stroke="#1e1e1e" stroke-width="1.3" />
<line x1="284.50" y1="846.60" x2="284.50" y2="962.30" stroke="#1e1e1e" stroke-width="1.3" />
<line x1="327.50" y1="846.60" x2="327.50" y2="962.30" stroke="#1e1e1e" stroke-width="1.3" />
<line x1="369.50" y1="846.60" x2="369.50" y2="962.30" stroke="#1e1e1e" stroke-width="1.3" />
<line x1="412.50" y1="846.60" x2="412.50" y2="962.30" stroke="#1e1e1e" stroke-width="1.3" />
<line x1="144.40" y1="846.50" x2="412.40" y2="846.50" stroke="#1e1e1e" stroke-width="1.3" />
<line x1="144.40" y1="870.50" x2="412.40" y2="870.50" stroke="#1e1e1e" stroke-width="1.3" />
<line x1="144.40" y1="894.50" x2="412.40" y2="894.50" stroke="#1e1e1e" stroke-width="1.3" />
<line x1="144.40" y1="917.50" x2="412.40" y2="917.50" stroke="#1e1e1e" stroke-width="1.3" />
<line x1="144.40" y1="941.50" x2="412.40" y2="941.50" stroke="#1e1e1e" stroke-width="1.3" />
<line x1="144.40" y1="962.50" x2="412.40" y2="962.50" stroke="#1e1e1e" stroke-width="1.3" />
<text x="172.50" y="862.80" font-size="11.9" font-weight="bold" font-style="normal" text-anchor="middle" fill="#222" stroke="#222" stroke-width="0" >IEC B14</text>
<text x="221.60" y="862.80" font-size="11.9" font-weight="bold" font-style="normal" text-anchor="middle" fill="#222" stroke="#222" stroke-width="0" >80</text>
<text x="263.60" y="862.80" font-size="11.9" font-weight="bold" font-style="normal" text-anchor="middle" fill="#222" stroke="#222" stroke-width="0" >90S</text>
<text x="306.10" y="862.80" font-size="11.9" font-weight="bold" font-style="normal" text-anchor="middle" fill="#222" stroke="#222" stroke-width="0" >90L</text>
<text x="348.60" y="862.80" font-size="11.9" font-weight="bold" font-style="normal" text-anchor="middle" fill="#222" stroke="#222" stroke-width="0" >100L</text>
<text x="391.00" y="862.80" font-size="11.9" font-weight="bold" font-style="normal" text-anchor="middle" fill="#222" stroke="#222" stroke-width="0" >112M</text>
<text transform="translate(172.50,887.10) scale(1,1.12)" font-size="11.6" font-weight="bold" font-style="normal" text-anchor="middle" fill="#222" stroke="#222" stroke-width="0.25" >k</text>
<text transform="translate(221.60,887.10) scale(1,1.12)" font-size="11.6" font-weight="normal" font-style="normal" text-anchor="middle" fill="#222" stroke="#222" stroke-width="0.25" >499,5</text>
<text transform="translate(263.60,887.10) scale(1,1.12)" font-size="11.6" font-weight="normal" font-style="normal" text-anchor="middle" fill="#222" stroke="#222" stroke-width="0.25" >519,5</text>
<text transform="translate(306.10,887.10) scale(1,1.12)" font-size="11.6" font-weight="normal" font-style="normal" text-anchor="middle" fill="#222" stroke="#222" stroke-width="0.25" >544,5</text>
<text transform="translate(348.60,887.10) scale(1,1.12)" font-size="11.6" font-weight="normal" font-style="normal" text-anchor="middle" fill="#222" stroke="#222" stroke-width="0.25" >576,5</text>
<text transform="translate(391.00,887.10) scale(1,1.12)" font-size="11.6" font-weight="normal" font-style="normal" text-anchor="middle" fill="#222" stroke="#222" stroke-width="0.25" >596,5</text>
<text transform="translate(172.50,910.80) scale(1,1.12)" font-size="11.6" font-weight="bold" font-style="normal" text-anchor="middle" fill="#222" stroke="#222" stroke-width="0.25" >k1</text>
<text transform="translate(221.60,910.80) scale(1,1.12)" font-size="11.6" font-weight="normal" font-style="normal" text-anchor="middle" fill="#222" stroke="#222" stroke-width="0.25" >619,5</text>
<text transform="translate(263.60,910.80) scale(1,1.12)" font-size="11.6" font-weight="normal" font-style="normal" text-anchor="middle" fill="#222" stroke="#222" stroke-width="0.25" >644,5</text>
<text transform="translate(306.10,910.80) scale(1,1.12)" font-size="11.6" font-weight="normal" font-style="normal" text-anchor="middle" fill="#222" stroke="#222" stroke-width="0.25" >669,5</text>
<text transform="translate(348.60,910.80) scale(1,1.12)" font-size="11.6" font-weight="normal" font-style="normal" text-anchor="middle" fill="#222" stroke="#222" stroke-width="0.25" >711,5</text>
<text transform="translate(391.00,910.80) scale(1,1.12)" font-size="11.6" font-weight="normal" font-style="normal" text-anchor="middle" fill="#222" stroke="#222" stroke-width="0.25" >731,5</text>
<text transform="translate(172.50,934.20) scale(1,1.12)" font-size="11.6" font-weight="bold" font-style="normal" text-anchor="middle" fill="#222" stroke="#222" stroke-width="0.25" >n</text>
<text transform="translate(221.60,934.20) scale(1,1.12)" font-size="11.6" font-weight="normal" font-style="normal" text-anchor="middle" fill="#222" stroke="#222" stroke-width="0.25" >156</text>
<text transform="translate(263.60,934.20) scale(1,1.12)" font-size="11.6" font-weight="normal" font-style="normal" text-anchor="middle" fill="#222" stroke="#222" stroke-width="0.25" >176</text>
<text transform="translate(306.10,934.20) scale(1,1.12)" font-size="11.6" font-weight="normal" font-style="normal" text-anchor="middle" fill="#222" stroke="#222" stroke-width="0.25" >176</text>
<text transform="translate(348.60,934.20) scale(1,1.12)" font-size="11.6" font-weight="normal" font-style="normal" text-anchor="middle" fill="#222" stroke="#222" stroke-width="0.25" >194</text>
<text transform="translate(391.00,934.20) scale(1,1.12)" font-size="11.6" font-weight="normal" font-style="normal" text-anchor="middle" fill="#222" stroke="#222" stroke-width="0.25" >218</text>
<text transform="translate(172.50,956.80) scale(1,1.12)" font-size="11.6" font-weight="bold" font-style="normal" text-anchor="middle" fill="#222" stroke="#222" stroke-width="0.25" >n1</text>
<text transform="translate(221.60,956.80) scale(1,1.12)" font-size="11.6" font-weight="normal" font-style="normal" text-anchor="middle" fill="#222" stroke="#222" stroke-width="0.25" >118</text>
<text transform="translate(263.60,956.80) scale(1,1.12)" font-size="11.6" font-weight="normal" font-style="normal" text-anchor="middle" fill="#222" stroke="#222" stroke-width="0.25" >126</text>
<text transform="translate(306.10,956.80) scale(1,1.12)" font-size="11.6" font-weight="normal" font-style="normal" text-anchor="middle" fill="#222" stroke="#222" stroke-width="0.25" >126</text>
<text transform="translate(348.60,956.80) scale(1,1.12)" font-size="11.6" font-weight="normal" font-style="normal" text-anchor="middle" fill="#222" stroke="#222" stroke-width="0.25" >135</text>
<text transform="translate(391.00,956.80) scale(1,1.12)" font-size="11.6" font-weight="normal" font-style="normal" text-anchor="middle" fill="#222" stroke="#222" stroke-width="0.25" >146</text>
<text x="475.9" y="854.8" font-size="10.4" fill="#1a1a1a"><tspan font-weight="bold">Klemens Pozisyonları</tspan> <tspan font-size="12.6">/</tspan> <tspan font-style="italic">Terminal Box Positions</tspan> <tspan font-size="12.6">/</tspan> Klemmenkasten</text>
<polyline points="562.50,913.00 562.50,930.50 587.50,930.50 587.50,913.00" fill="none" stroke="#1e1e1e" stroke-width="1.0" stroke-linejoin="round" />
<path d="M566.30,930.20 Q567.70,927.00 569.10,930.20 Q570.50,927.00 571.90,930.20 Q573.30,927.00 574.70,930.20 Q576.10,927.00 577.50,930.20 Q578.90,927.00 580.30,930.20 Q581.70,927.00 583.10,930.20" fill="none" stroke="#1e1e1e" stroke-width="1.0" stroke-linejoin="round" />
<g transform="translate(574.7,900.2) rotate(0)">
<g transform="rotate(0)">
<path d="M-10.5,-25.2 L-9,-19 Q-8.5,-16 -7.5,-14 H7.5 Q8.5,-16 9,-19 L10.5,-25.2 Z" fill="#fff" stroke="#1e1e1e" stroke-width="1.0" stroke-linejoin="round" />
<line x1="-10.80" y1="-25.50" x2="10.80" y2="-25.50" stroke="#1e1e1e" stroke-width="2.8" />
<line x1="-6.50" y1="-24.00" x2="-6.50" y2="-14.00" stroke="#1e1e1e" stroke-width="0.8" />
<line x1="6.50" y1="-24.00" x2="6.50" y2="-14.00" stroke="#1e1e1e" stroke-width="0.8" />
<line x1="-10.00" y1="-22.50" x2="10.00" y2="-22.50" stroke="#1e1e1e" stroke-width="0.8" />
</g>
<g transform="rotate(90)">
<path d="M-10.5,-25.2 L-9,-19 Q-8.5,-16 -7.5,-14 H7.5 Q8.5,-16 9,-19 L10.5,-25.2 Z" fill="#fff" stroke="#1e1e1e" stroke-width="1.0" stroke-linejoin="round" />
<line x1="-10.80" y1="-25.50" x2="10.80" y2="-25.50" stroke="#1e1e1e" stroke-width="2.8" />
<line x1="-6.50" y1="-24.00" x2="-6.50" y2="-14.00" stroke="#1e1e1e" stroke-width="0.8" />
<line x1="6.50" y1="-24.00" x2="6.50" y2="-14.00" stroke="#1e1e1e" stroke-width="0.8" />
<line x1="-10.00" y1="-22.50" x2="10.00" y2="-22.50" stroke="#1e1e1e" stroke-width="0.8" />
</g>
<g transform="rotate(180)">
<path d="M-10.5,-25.2 L-9,-19 Q-8.5,-16 -7.5,-14 H7.5 Q8.5,-16 9,-19 L10.5,-25.2 Z" fill="#fff" stroke="#1e1e1e" stroke-width="1.0" stroke-linejoin="round" />
<line x1="-10.80" y1="-25.50" x2="10.80" y2="-25.50" stroke="#1e1e1e" stroke-width="2.8" />
<line x1="-6.50" y1="-24.00" x2="-6.50" y2="-14.00" stroke="#1e1e1e" stroke-width="0.8" />
<line x1="6.50" y1="-24.00" x2="6.50" y2="-14.00" stroke="#1e1e1e" stroke-width="0.8" />
<line x1="-10.00" y1="-22.50" x2="10.00" y2="-22.50" stroke="#1e1e1e" stroke-width="0.8" />
</g>
<g transform="rotate(270)">
<path d="M-10.5,-25.2 L-9,-19 Q-8.5,-16 -7.5,-14 H7.5 Q8.5,-16 9,-19 L10.5,-25.2 Z" fill="#fff" stroke="#1e1e1e" stroke-width="1.0" stroke-linejoin="round" />
<line x1="-10.80" y1="-25.50" x2="10.80" y2="-25.50" stroke="#1e1e1e" stroke-width="2.8" />
<line x1="-6.50" y1="-24.00" x2="-6.50" y2="-14.00" stroke="#1e1e1e" stroke-width="0.8" />
<line x1="6.50" y1="-24.00" x2="6.50" y2="-14.00" stroke="#1e1e1e" stroke-width="0.8" />
<line x1="-10.00" y1="-22.50" x2="10.00" y2="-22.50" stroke="#1e1e1e" stroke-width="0.8" />
</g>
<circle cx="0.00" cy="0.00" r="16.40" fill="#fff" stroke="#1e1e1e" stroke-width="1.3" />
<circle cx="0.00" cy="0.00" r="11.70" fill="none" stroke="#1e1e1e" stroke-width="2.8" />
</g>
<line x1="558.70" y1="900.50" x2="590.70" y2="900.50" stroke="#1e1e1e" stroke-width="0.9" />
<line x1="574.50" y1="884.20" x2="574.50" y2="916.20" stroke="#1e1e1e" stroke-width="0.9" />
<text x="564.30" y="871.80" font-size="9.2" font-weight="bold" font-style="normal" text-anchor="start" fill="#1a1a1a" stroke="#1a1a1a" stroke-width="0.15" >Poz. 1</text>
<text x="519.80" y="901.90" font-size="9.2" font-weight="bold" font-style="normal" text-anchor="start" fill="#1a1a1a" stroke="#1a1a1a" stroke-width="0.15" >Poz. 4</text>
<text x="602.40" y="904.00" font-size="9.2" font-weight="bold" font-style="normal" text-anchor="start" fill="#1a1a1a" stroke="#1a1a1a" stroke-width="0.15" >Poz. 2</text>
<text x="561.50" y="938.50" font-size="9.2" font-weight="bold" font-style="normal" text-anchor="start" fill="#1a1a1a" stroke="#1a1a1a" stroke-width="0.15" >Poz. 3</text>
<text transform="translate(577.30,957.60) scale(1,1.12)" font-size="11.6" font-weight="bold" font-style="normal" text-anchor="middle" fill="#1a1a1a" stroke="#1a1a1a" stroke-width="0.25" >90-100-112</text>
<text x="572.8" y="971.4" font-size="12.2" fill="#1a1a1a" text-anchor="middle"><tspan font-weight="bold">Tip</tspan> / <tspan font-style="italic" font-size="10">Type</tspan> / Typ</text>
<polyline points="691.50,931.50 691.50,941.50 712.50,941.50 712.50,931.50" fill="none" stroke="#1e1e1e" stroke-width="1.0" stroke-linejoin="round" />
<path d="M695.00,941.00 Q696.12,937.80 697.23,941.00 Q698.35,937.80 699.47,941.00 Q700.58,937.80 701.70,941.00 Q702.82,937.80 703.93,941.00 Q705.05,937.80 706.17,941.00 Q707.28,937.80 708.40,941.00" fill="none" stroke="#1e1e1e" stroke-width="1.0" stroke-linejoin="round" />
<g transform="translate(703,911.9) rotate(30)">
<g transform="rotate(0)">
<path d="M-10.5,-25.2 L-9,-19 Q-8.5,-16 -7.5,-14 H7.5 Q8.5,-16 9,-19 L10.5,-25.2 Z" fill="#fff" stroke="#1e1e1e" stroke-width="1.0" stroke-linejoin="round" />
<line x1="-10.80" y1="-25.50" x2="10.80" y2="-25.50" stroke="#1e1e1e" stroke-width="2.8" />
<line x1="-6.50" y1="-24.00" x2="-6.50" y2="-14.00" stroke="#1e1e1e" stroke-width="0.8" />
<line x1="6.50" y1="-24.00" x2="6.50" y2="-14.00" stroke="#1e1e1e" stroke-width="0.8" />
<line x1="-10.00" y1="-22.50" x2="10.00" y2="-22.50" stroke="#1e1e1e" stroke-width="0.8" />
</g>
<g transform="rotate(90)">
<path d="M-10.5,-25.2 L-9,-19 Q-8.5,-16 -7.5,-14 H7.5 Q8.5,-16 9,-19 L10.5,-25.2 Z" fill="#fff" stroke="#1e1e1e" stroke-width="1.0" stroke-linejoin="round" />
<line x1="-10.80" y1="-25.50" x2="10.80" y2="-25.50" stroke="#1e1e1e" stroke-width="2.8" />
<line x1="-6.50" y1="-24.00" x2="-6.50" y2="-14.00" stroke="#1e1e1e" stroke-width="0.8" />
<line x1="6.50" y1="-24.00" x2="6.50" y2="-14.00" stroke="#1e1e1e" stroke-width="0.8" />
<line x1="-10.00" y1="-22.50" x2="10.00" y2="-22.50" stroke="#1e1e1e" stroke-width="0.8" />
</g>
<g transform="rotate(180)">
<path d="M-10.5,-25.2 L-9,-19 Q-8.5,-16 -7.5,-14 H7.5 Q8.5,-16 9,-19 L10.5,-25.2 Z" fill="#fff" stroke="#1e1e1e" stroke-width="1.0" stroke-linejoin="round" />
<line x1="-10.80" y1="-25.50" x2="10.80" y2="-25.50" stroke="#1e1e1e" stroke-width="2.8" />
<line x1="-6.50" y1="-24.00" x2="-6.50" y2="-14.00" stroke="#1e1e1e" stroke-width="0.8" />
<line x1="6.50" y1="-24.00" x2="6.50" y2="-14.00" stroke="#1e1e1e" stroke-width="0.8" />
<line x1="-10.00" y1="-22.50" x2="10.00" y2="-22.50" stroke="#1e1e1e" stroke-width="0.8" />
</g>
<g transform="rotate(270)">
<path d="M-10.5,-25.2 L-9,-19 Q-8.5,-16 -7.5,-14 H7.5 Q8.5,-16 9,-19 L10.5,-25.2 Z" fill="#fff" stroke="#1e1e1e" stroke-width="1.0" stroke-linejoin="round" />
<line x1="-10.80" y1="-25.50" x2="10.80" y2="-25.50" stroke="#1e1e1e" stroke-width="2.8" />
<line x1="-6.50" y1="-24.00" x2="-6.50" y2="-14.00" stroke="#1e1e1e" stroke-width="0.8" />
<line x1="6.50" y1="-24.00" x2="6.50" y2="-14.00" stroke="#1e1e1e" stroke-width="0.8" />
<line x1="-10.00" y1="-22.50" x2="10.00" y2="-22.50" stroke="#1e1e1e" stroke-width="0.8" />
</g>
<circle cx="0.00" cy="0.00" r="15.60" fill="#fff" stroke="#1e1e1e" stroke-width="1.3" />
<circle cx="0.00" cy="0.00" r="11.70" fill="none" stroke="#1e1e1e" stroke-width="2.8" />
</g>
<line x1="687.00" y1="911.50" x2="719.00" y2="911.50" stroke="#1e1e1e" stroke-width="0.9" />
<line x1="703.50" y1="895.90" x2="703.50" y2="927.90" stroke="#1e1e1e" stroke-width="0.9" />
<line x1="703.50" y1="911.90" x2="703.50" y2="876.50" stroke="#1e1e1e" stroke-width="0.9" />
<line x1="697.60" y1="876.50" x2="703.00" y2="876.50" stroke="#1e1e1e" stroke-width="0.9" />
<path d="M703,876.5 Q716,877 726,885" fill="none" stroke="#1e1e1e" stroke-width="0.9" stroke-linejoin="round" />
<line x1="703.00" y1="911.90" x2="719.60" y2="883.00" stroke="#1e1e1e" stroke-width="0.9" />
<text x="706.2" y="876.9" font-size="9.5" font-weight="bold" font-style="italic" fill="#1a1a1a">30°</text>
<text x="722.30" y="891.00" font-size="9.2" font-weight="bold" font-style="normal" text-anchor="start" fill="#1a1a1a" stroke="#1a1a1a" stroke-width="0.15" >Poz. 2</text>
<text x="651.50" y="900.00" font-size="9.2" font-weight="bold" font-style="normal" text-anchor="start" fill="#1a1a1a" stroke="#1a1a1a" stroke-width="0.15" >Poz. 1</text>
<text x="725.00" y="931.20" font-size="9.2" font-weight="bold" font-style="normal" text-anchor="start" fill="#1a1a1a" stroke="#1a1a1a" stroke-width="0.15" >Poz. 3</text>
<text x="660.70" y="942.40" font-size="9.2" font-weight="bold" font-style="normal" text-anchor="start" fill="#1a1a1a" stroke="#1a1a1a" stroke-width="0.15" >Poz. 4</text>
<text transform="translate(705.30,957.00) scale(1,1.12)" font-size="11.6" font-weight="normal" font-style="normal" text-anchor="middle" fill="#1a1a1a" stroke="#1a1a1a" stroke-width="0.25" >80</text>
<text x="701" y="971.3" font-size="12.2" fill="#1a1a1a" text-anchor="middle"><tspan font-weight="bold">Tip</tspan> / <tspan font-style="italic" font-size="10">Type</tspan> / Typ</text>
<rect x="132" y="202" width="1" height="1" fill="#555"/>
<rect x="144" y="628" width="1" height="1" fill="#555"/>
<rect x="507.5" y="861.5" width="1" height="1" fill="#555"/>
<rect x="634.5" y="865" width="1" height="1" fill="#555"/>
</svg>
</body></html>
